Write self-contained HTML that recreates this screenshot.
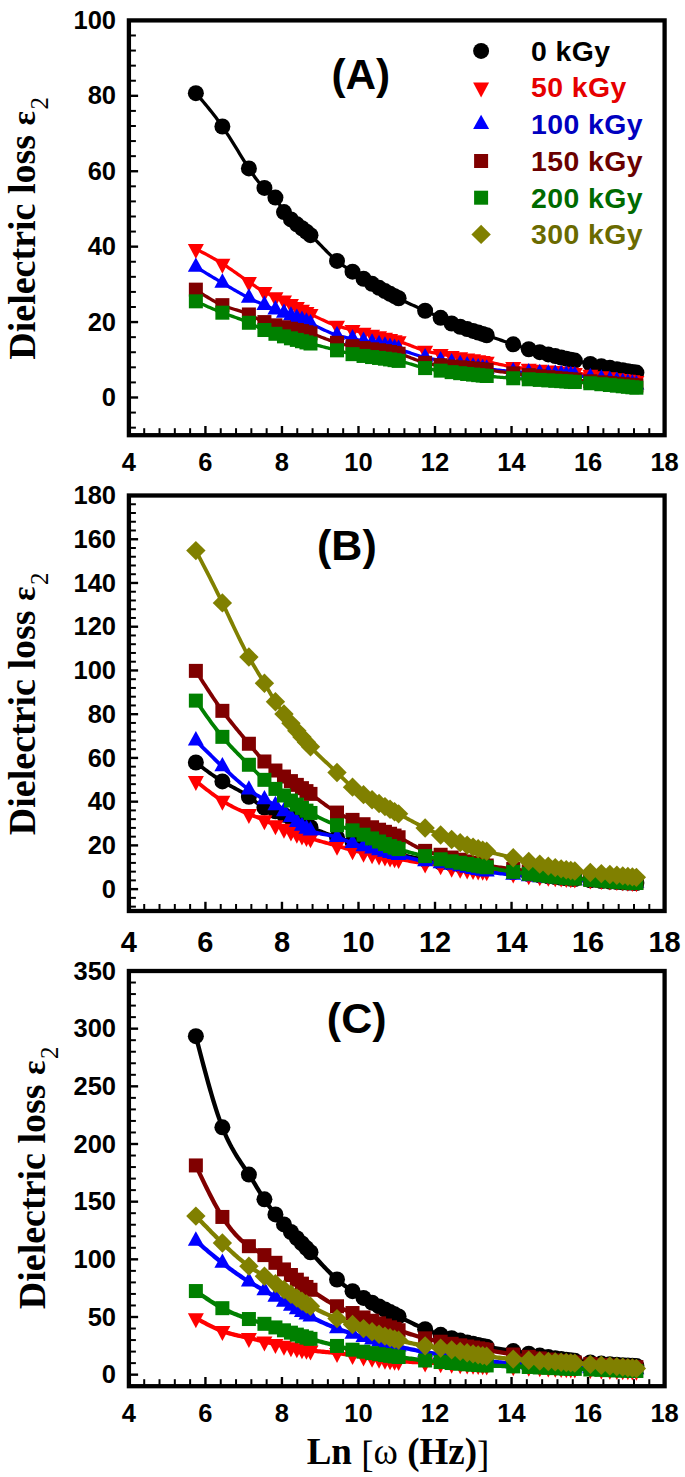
<!DOCTYPE html>
<html><head><meta charset="utf-8"><style>html,body{margin:0;padding:0;background:#fff;}svg{display:block;}</style></head>
<body>
<svg width="685" height="1477" viewBox="0 0 685 1477">
<rect width="685" height="1477" fill="#fff"/>
<path d="M195.86 93.17L197.42 94.98L198.98 96.80L200.54 98.62L202.10 100.44L203.66 102.29L205.22 104.14L206.78 106.02L208.34 107.92L209.90 109.84L211.46 111.79L213.02 113.78L214.58 115.80L216.14 117.85L217.70 119.95L219.26 122.09L220.82 124.29L222.38 126.53L223.94 128.82L225.50 131.16L227.06 133.55L228.62 135.97L230.18 138.42L231.74 140.90L233.30 143.41L234.86 145.92L236.42 148.45L237.98 150.98L239.54 153.52L241.10 156.04L242.66 158.56L244.22 161.06L245.78 163.53L247.34 165.98L248.90 168.39L250.46 170.76L252.01 173.06L253.56 175.31L255.11 177.46L256.66 179.53L258.21 181.48L259.76 183.31L261.32 185.00L262.87 186.53L264.42 187.89L265.99 189.11L267.56 190.23L269.14 191.34L270.71 192.54L272.28 193.93L273.85 195.58L275.43 197.60L277.13 200.26L278.84 203.25L280.55 206.36L282.26 209.37L283.97 212.08L285.71 214.37L287.45 216.27L289.20 217.90L290.94 219.41L292.91 221.09L294.87 222.74L296.84 224.34L298.54 225.66L300.25 226.95L301.95 228.23L303.45 229.37L304.95 230.53L306.46 231.73L308.47 233.42L310.49 235.19L312.05 236.62L313.61 238.10L315.17 239.61L316.73 241.16L318.29 242.73L319.85 244.33L321.41 245.93L322.97 247.53L324.53 249.13L326.09 250.72L327.65 252.29L329.21 253.84L330.77 255.35L332.33 256.83L333.89 258.26L335.45 259.63L337.01 260.95L338.56 262.19L340.11 263.37L341.67 264.50L343.22 265.59L344.77 266.64L346.32 267.67L347.87 268.67L349.42 269.67L350.97 270.66L352.53 271.65L354.10 272.67L355.67 273.69L357.24 274.72L358.82 275.74L360.39 276.76L361.96 277.77L363.53 278.75L365.24 279.80L366.95 280.83L368.66 281.83L370.36 282.83L372.07 283.82L373.82 284.83L375.56 285.83L377.30 286.83L379.05 287.81L381.01 288.91L382.98 290.00L384.95 291.08L386.65 292.01L388.35 292.93L390.06 293.84L391.56 294.63L393.06 295.42L394.56 296.21L396.58 297.25L398.60 298.28L400.16 299.07L401.72 299.85L403.28 300.63L404.84 301.40L406.40 302.16L407.96 302.91L409.52 303.66L411.08 304.40L412.64 305.13L414.20 305.86L415.76 306.58L417.32 307.30L418.88 308.00L420.44 308.71L422.00 309.41L423.56 310.10L425.12 310.78L426.67 311.46L428.22 312.14L429.77 312.82L431.32 313.50L432.88 314.19L434.43 314.89L435.98 315.60L437.53 316.34L439.08 317.09L440.63 317.87L442.21 318.68L443.78 319.51L445.35 320.34L446.92 321.17L448.50 321.98L450.07 322.76L451.64 323.49L453.35 324.23L455.06 324.92L456.76 325.57L458.47 326.18L460.18 326.78L461.92 327.37L463.67 327.96L465.41 328.54L467.16 329.11L469.12 329.73L471.09 330.35L473.05 330.95L474.76 331.48L476.46 332.00L478.16 332.53L479.67 333.00L481.17 333.47L482.67 333.95L484.69 334.61L486.70 335.28L488.26 335.81L489.82 336.34L491.38 336.87L492.94 337.40L494.50 337.94L496.06 338.48L497.62 339.02L499.18 339.56L500.74 340.11L502.30 340.65L503.86 341.19L505.42 341.72L506.98 342.26L508.54 342.79L510.10 343.32L511.66 343.85L513.22 344.37L514.78 344.88L516.33 345.39L517.88 345.90L519.43 346.39L520.98 346.88L522.53 347.36L524.08 347.84L525.64 348.31L527.19 348.77L528.74 349.22L530.31 349.66L531.88 350.10L533.46 350.53L535.03 350.96L536.60 351.38L538.17 351.79L539.75 352.20L541.46 352.65L543.16 353.09L544.87 353.52L546.58 353.96L548.29 354.38L550.03 354.82L551.77 355.25L553.52 355.67L555.26 356.09L557.23 356.56L559.19 357.02L561.16 357.48L562.86 357.88L564.57 358.27L566.27 358.66L567.77 359.00L569.27 359.34L570.78 359.67L572.79 360.12L574.81 360.56L576.36 360.90L577.91 361.24L579.46 361.58L581.01 361.91L582.57 362.25L584.12 362.58L585.67 362.91L587.22 363.24L588.77 363.57L590.32 363.89L591.90 364.22L593.47 364.55L595.04 364.87L596.61 365.19L598.19 365.51L599.76 365.83L601.33 366.15L603.04 366.49L604.75 366.83L606.45 367.17L608.16 367.50L609.87 367.83L611.61 368.17L613.36 368.50L615.10 368.83L616.85 369.16L618.81 369.52L620.78 369.89L622.74 370.24L624.45 370.55L626.15 370.86L627.85 371.16L629.36 371.42L630.86 371.68L632.36 371.94L634.38 372.28L636.39 372.62" fill="none" stroke="#000000" stroke-width="3.3" stroke-linejoin="round"/>
<g><circle cx="195.86" cy="93.17" r="8" fill="#000000"/><circle cx="222.38" cy="126.53" r="8" fill="#000000"/><circle cx="248.90" cy="168.39" r="8" fill="#000000"/><circle cx="264.42" cy="187.89" r="8" fill="#000000"/><circle cx="275.43" cy="197.60" r="8" fill="#000000"/><circle cx="283.97" cy="212.08" r="8" fill="#000000"/><circle cx="290.94" cy="219.41" r="8" fill="#000000"/><circle cx="296.84" cy="224.34" r="8" fill="#000000"/><circle cx="301.95" cy="228.23" r="8" fill="#000000"/><circle cx="306.46" cy="231.73" r="8" fill="#000000"/><circle cx="310.49" cy="235.19" r="8" fill="#000000"/><circle cx="337.01" cy="260.95" r="8" fill="#000000"/><circle cx="352.53" cy="271.65" r="8" fill="#000000"/><circle cx="363.53" cy="278.75" r="8" fill="#000000"/><circle cx="372.07" cy="283.82" r="8" fill="#000000"/><circle cx="379.05" cy="287.81" r="8" fill="#000000"/><circle cx="384.95" cy="291.08" r="8" fill="#000000"/><circle cx="390.06" cy="293.84" r="8" fill="#000000"/><circle cx="394.56" cy="296.21" r="8" fill="#000000"/><circle cx="398.60" cy="298.28" r="8" fill="#000000"/><circle cx="425.12" cy="310.78" r="8" fill="#000000"/><circle cx="440.63" cy="317.87" r="8" fill="#000000"/><circle cx="451.64" cy="323.49" r="8" fill="#000000"/><circle cx="460.18" cy="326.78" r="8" fill="#000000"/><circle cx="467.16" cy="329.11" r="8" fill="#000000"/><circle cx="473.05" cy="330.95" r="8" fill="#000000"/><circle cx="478.16" cy="332.53" r="8" fill="#000000"/><circle cx="482.67" cy="333.95" r="8" fill="#000000"/><circle cx="486.70" cy="335.28" r="8" fill="#000000"/><circle cx="513.22" cy="344.37" r="8" fill="#000000"/><circle cx="528.74" cy="349.22" r="8" fill="#000000"/><circle cx="539.75" cy="352.20" r="8" fill="#000000"/><circle cx="548.29" cy="354.38" r="8" fill="#000000"/><circle cx="555.26" cy="356.09" r="8" fill="#000000"/><circle cx="561.16" cy="357.48" r="8" fill="#000000"/><circle cx="566.27" cy="358.66" r="8" fill="#000000"/><circle cx="570.78" cy="359.67" r="8" fill="#000000"/><circle cx="574.81" cy="360.56" r="8" fill="#000000"/><circle cx="590.32" cy="363.89" r="8" fill="#000000"/><circle cx="601.33" cy="366.15" r="8" fill="#000000"/><circle cx="609.87" cy="367.83" r="8" fill="#000000"/><circle cx="616.85" cy="369.16" r="8" fill="#000000"/><circle cx="622.74" cy="370.24" r="8" fill="#000000"/><circle cx="627.85" cy="371.16" r="8" fill="#000000"/><circle cx="632.36" cy="371.94" r="8" fill="#000000"/><circle cx="636.39" cy="372.62" r="8" fill="#000000"/></g>
<path d="M195.86 248.92L197.42 249.73L198.98 250.54L200.54 251.36L202.10 252.18L203.66 253.00L205.22 253.83L206.78 254.67L208.34 255.51L209.90 256.37L211.46 257.23L213.02 258.11L214.58 259.00L216.14 259.91L217.70 260.83L219.26 261.77L220.82 262.72L222.38 263.70L223.94 264.69L225.50 265.70L227.06 266.73L228.62 267.78L230.18 268.84L231.74 269.91L233.30 270.99L234.86 272.08L236.42 273.18L237.98 274.28L239.54 275.39L241.10 276.49L242.66 277.60L244.22 278.71L245.78 279.81L247.34 280.91L248.90 282.00L250.46 283.08L252.01 284.15L253.56 285.20L255.11 286.24L256.66 287.26L258.21 288.25L259.76 289.22L261.32 290.16L262.87 291.07L264.42 291.94L265.99 292.79L267.56 293.60L269.14 294.38L270.71 295.12L272.28 295.83L273.85 296.52L275.43 297.17L277.13 297.86L278.84 298.53L280.55 299.21L282.26 299.90L283.97 300.62L285.71 301.40L287.45 302.22L289.20 303.08L290.94 303.96L292.91 304.97L294.87 305.99L296.84 307.03L298.54 307.94L300.25 308.85L301.95 309.75L303.45 310.54L304.95 311.32L306.46 312.09L308.47 313.09L310.49 314.07L312.05 314.84L313.61 315.60L315.17 316.36L316.73 317.12L318.29 317.88L319.85 318.63L321.41 319.37L322.97 320.10L324.53 320.81L326.09 321.52L327.65 322.20L329.21 322.86L330.77 323.51L332.33 324.13L333.89 324.72L335.45 325.29L337.01 325.83L338.56 326.33L340.11 326.81L341.67 327.26L343.22 327.69L344.77 328.11L346.32 328.51L347.87 328.90L349.42 329.28L350.97 329.66L352.53 330.03L354.10 330.42L355.67 330.81L357.24 331.19L358.82 331.58L360.39 331.96L361.96 332.34L363.53 332.71L365.24 333.11L366.95 333.50L368.66 333.89L370.36 334.27L372.07 334.66L373.82 335.05L375.56 335.45L377.30 335.85L379.05 336.25L381.01 336.71L382.98 337.18L384.95 337.65L386.65 338.07L388.35 338.49L390.06 338.93L391.56 339.32L393.06 339.73L394.56 340.13L396.58 340.69L398.60 341.28L400.16 341.77L401.72 342.29L403.28 342.83L404.84 343.40L406.40 343.97L407.96 344.56L409.52 345.16L411.08 345.76L412.64 346.37L414.20 346.97L415.76 347.56L417.32 348.14L418.88 348.71L420.44 349.26L422.00 349.78L423.56 350.28L425.12 350.74L426.67 351.18L428.22 351.58L429.77 351.95L431.32 352.30L432.88 352.62L434.43 352.94L435.98 353.23L437.53 353.52L439.08 353.80L440.63 354.07L442.21 354.35L443.78 354.63L445.35 354.91L446.92 355.18L448.50 355.45L450.07 355.72L451.64 355.98L453.35 356.26L455.06 356.53L456.76 356.79L458.47 357.06L460.18 357.32L461.92 357.59L463.67 357.86L465.41 358.12L467.16 358.39L469.12 358.70L471.09 359.00L473.05 359.32L474.76 359.59L476.46 359.87L478.16 360.15L479.67 360.41L481.17 360.67L482.67 360.93L484.69 361.30L486.70 361.67L488.26 361.98L489.82 362.29L491.38 362.61L492.94 362.94L494.50 363.27L496.06 363.60L497.62 363.94L499.18 364.27L500.74 364.60L502.30 364.93L503.86 365.25L505.42 365.57L506.98 365.87L508.54 366.17L510.10 366.45L511.66 366.72L513.22 366.97L514.78 367.20L516.33 367.42L517.88 367.62L519.43 367.81L520.98 367.99L522.53 368.16L524.08 368.33L525.64 368.48L527.19 368.64L528.74 368.79L530.31 368.94L531.88 369.09L533.46 369.24L535.03 369.39L536.60 369.53L538.17 369.67L539.75 369.81L541.46 369.96L543.16 370.11L544.87 370.25L546.58 370.40L548.29 370.54L550.03 370.68L551.77 370.83L553.52 370.98L555.26 371.12L557.23 371.29L559.19 371.46L561.16 371.64L562.86 371.79L564.57 371.95L566.27 372.11L567.77 372.26L569.27 372.41L570.78 372.56L572.79 372.77L574.81 372.99L576.36 373.17L577.91 373.34L579.46 373.52L581.01 373.69L582.57 373.87L584.12 374.05L585.67 374.24L587.22 374.42L588.77 374.61L590.32 374.79L591.90 374.99L593.47 375.18L595.04 375.37L596.61 375.57L598.19 375.76L599.76 375.96L601.33 376.16L603.04 376.37L604.75 376.59L606.45 376.81L608.16 377.04L609.87 377.26L611.61 377.49L613.36 377.72L615.10 377.95L616.85 378.19L618.81 378.45L620.78 378.72L622.74 378.99L624.45 379.23L626.15 379.46L627.85 379.70L629.36 379.91L630.86 380.12L632.36 380.34L634.38 380.63L636.39 380.91" fill="none" stroke="#ff0000" stroke-width="3.3" stroke-linejoin="round"/>
<g><path d="M187.86 243.92H203.86L195.86 258.92Z" fill="#ff0000"/><path d="M214.38 258.70H230.38L222.38 273.70Z" fill="#ff0000"/><path d="M240.90 277.00H256.90L248.90 292.00Z" fill="#ff0000"/><path d="M256.42 286.94H272.42L264.42 301.94Z" fill="#ff0000"/><path d="M267.43 292.17H283.43L275.43 307.17Z" fill="#ff0000"/><path d="M275.97 295.62H291.97L283.97 310.62Z" fill="#ff0000"/><path d="M282.94 298.96H298.94L290.94 313.96Z" fill="#ff0000"/><path d="M288.84 302.03H304.84L296.84 317.03Z" fill="#ff0000"/><path d="M293.95 304.75H309.95L301.95 319.75Z" fill="#ff0000"/><path d="M298.46 307.09H314.46L306.46 322.09Z" fill="#ff0000"/><path d="M302.49 309.07H318.49L310.49 324.07Z" fill="#ff0000"/><path d="M329.01 320.83H345.01L337.01 335.83Z" fill="#ff0000"/><path d="M344.53 325.03H360.53L352.53 340.03Z" fill="#ff0000"/><path d="M355.53 327.71H371.53L363.53 342.71Z" fill="#ff0000"/><path d="M364.07 329.66H380.07L372.07 344.66Z" fill="#ff0000"/><path d="M371.05 331.25H387.05L379.05 346.25Z" fill="#ff0000"/><path d="M376.95 332.65H392.95L384.95 347.65Z" fill="#ff0000"/><path d="M382.06 333.93H398.06L390.06 348.93Z" fill="#ff0000"/><path d="M386.56 335.13H402.56L394.56 350.13Z" fill="#ff0000"/><path d="M390.60 336.28H406.60L398.60 351.28Z" fill="#ff0000"/><path d="M417.12 345.74H433.12L425.12 360.74Z" fill="#ff0000"/><path d="M432.63 349.07H448.63L440.63 364.07Z" fill="#ff0000"/><path d="M443.64 350.98H459.64L451.64 365.98Z" fill="#ff0000"/><path d="M452.18 352.32H468.18L460.18 367.32Z" fill="#ff0000"/><path d="M459.16 353.39H475.16L467.16 368.39Z" fill="#ff0000"/><path d="M465.05 354.32H481.05L473.05 369.32Z" fill="#ff0000"/><path d="M470.16 355.15H486.16L478.16 370.15Z" fill="#ff0000"/><path d="M474.67 355.93H490.67L482.67 370.93Z" fill="#ff0000"/><path d="M478.70 356.67H494.70L486.70 371.67Z" fill="#ff0000"/><path d="M505.22 361.97H521.22L513.22 376.97Z" fill="#ff0000"/><path d="M520.74 363.79H536.74L528.74 378.79Z" fill="#ff0000"/><path d="M531.75 364.81H547.75L539.75 379.81Z" fill="#ff0000"/><path d="M540.29 365.54H556.29L548.29 380.54Z" fill="#ff0000"/><path d="M547.26 366.12H563.26L555.26 381.12Z" fill="#ff0000"/><path d="M553.16 366.64H569.16L561.16 381.64Z" fill="#ff0000"/><path d="M558.27 367.11H574.27L566.27 382.11Z" fill="#ff0000"/><path d="M562.78 367.56H578.78L570.78 382.56Z" fill="#ff0000"/><path d="M566.81 367.99H582.81L574.81 382.99Z" fill="#ff0000"/><path d="M582.32 369.79H598.32L590.32 384.79Z" fill="#ff0000"/><path d="M593.33 371.16H609.33L601.33 386.16Z" fill="#ff0000"/><path d="M601.87 372.26H617.87L609.87 387.26Z" fill="#ff0000"/><path d="M608.85 373.19H624.85L616.85 388.19Z" fill="#ff0000"/><path d="M614.74 373.99H630.74L622.74 388.99Z" fill="#ff0000"/><path d="M619.85 374.70H635.85L627.85 389.70Z" fill="#ff0000"/><path d="M624.36 375.34H640.36L632.36 390.34Z" fill="#ff0000"/><path d="M628.39 375.91H644.39L636.39 390.91Z" fill="#ff0000"/></g>
<path d="M195.86 267.02L197.42 267.95L198.98 268.89L200.54 269.83L202.10 270.77L203.66 271.71L205.22 272.65L206.78 273.59L208.34 274.53L209.90 275.46L211.46 276.40L213.02 277.33L214.58 278.27L216.14 279.20L217.70 280.13L219.26 281.06L220.82 281.99L222.38 282.92L223.94 283.85L225.50 284.77L227.06 285.70L228.62 286.61L230.18 287.53L231.74 288.44L233.30 289.34L234.86 290.24L236.42 291.12L237.98 292.00L239.54 292.87L241.10 293.73L242.66 294.59L244.22 295.42L245.78 296.25L247.34 297.06L248.90 297.87L250.46 298.65L252.01 299.41L253.56 300.17L255.11 300.91L256.66 301.64L258.21 302.36L259.76 303.07L261.32 303.77L262.87 304.45L264.42 305.13L265.99 305.81L267.56 306.48L269.14 307.14L270.71 307.80L272.28 308.44L273.85 309.08L275.43 309.72L277.13 310.40L278.84 311.07L280.55 311.74L282.26 312.41L283.97 313.07L285.71 313.74L287.45 314.41L289.20 315.08L290.94 315.75L292.91 316.50L294.87 317.26L296.84 318.02L298.54 318.69L300.25 319.35L301.95 320.03L303.45 320.63L304.95 321.23L306.46 321.84L308.47 322.66L310.49 323.51L312.05 324.20L313.61 324.91L315.17 325.63L316.73 326.38L318.29 327.13L319.85 327.89L321.41 328.65L322.97 329.40L324.53 330.15L326.09 330.88L327.65 331.60L329.21 332.29L330.77 332.96L332.33 333.59L333.89 334.19L335.45 334.75L337.01 335.26L338.56 335.72L340.11 336.14L341.67 336.52L343.22 336.87L344.77 337.20L346.32 337.51L347.87 337.81L349.42 338.10L350.97 338.40L352.53 338.70L354.10 339.02L355.67 339.36L357.24 339.70L358.82 340.05L360.39 340.40L361.96 340.76L363.53 341.11L365.24 341.48L366.95 341.85L368.66 342.21L370.36 342.58L372.07 342.94L373.82 343.32L375.56 343.70L377.30 344.08L379.05 344.47L381.01 344.91L382.98 345.36L384.95 345.81L386.65 346.21L388.35 346.61L390.06 347.03L391.56 347.40L393.06 347.77L394.56 348.15L396.58 348.67L398.60 349.20L400.16 349.65L401.72 350.12L403.28 350.60L404.84 351.10L406.40 351.62L407.96 352.14L409.52 352.67L411.08 353.20L412.64 353.73L414.20 354.25L415.76 354.77L417.32 355.28L418.88 355.77L420.44 356.25L422.00 356.70L423.56 357.13L425.12 357.53L426.67 357.90L428.22 358.24L429.77 358.56L431.32 358.87L432.88 359.15L434.43 359.43L435.98 359.70L437.53 359.97L439.08 360.24L440.63 360.51L442.21 360.80L443.78 361.10L445.35 361.40L446.92 361.71L448.50 362.02L450.07 362.34L451.64 362.65L453.35 363.00L455.06 363.34L456.76 363.68L458.47 364.01L460.18 364.35L461.92 364.69L463.67 365.03L465.41 365.36L467.16 365.69L469.12 366.06L471.09 366.41L473.05 366.76L474.76 367.06L476.46 367.34L478.16 367.62L479.67 367.85L481.17 368.08L482.67 368.30L484.69 368.57L486.70 368.84L488.26 369.03L489.82 369.22L491.38 369.41L492.94 369.58L494.50 369.76L496.06 369.92L497.62 370.09L499.18 370.24L500.74 370.40L502.30 370.55L503.86 370.69L505.42 370.83L506.98 370.97L508.54 371.10L510.10 371.23L511.66 371.36L513.22 371.48L514.78 371.61L516.33 371.72L517.88 371.84L519.43 371.95L520.98 372.07L522.53 372.17L524.08 372.28L525.64 372.39L527.19 372.49L528.74 372.59L530.31 372.68L531.88 372.78L533.46 372.87L535.03 372.96L536.60 373.06L538.17 373.15L539.75 373.23L541.46 373.33L543.16 373.43L544.87 373.53L546.58 373.63L548.29 373.73L550.03 373.83L551.77 373.93L553.52 374.04L555.26 374.15L557.23 374.27L559.19 374.40L561.16 374.54L562.86 374.66L564.57 374.78L566.27 374.91L567.77 375.03L569.27 375.15L570.78 375.27L572.79 375.45L574.81 375.63L576.36 375.78L577.91 375.93L579.46 376.09L581.01 376.25L582.57 376.42L584.12 376.59L585.67 376.77L587.22 376.95L588.77 377.13L590.32 377.32L591.90 377.52L593.47 377.73L595.04 377.93L596.61 378.15L598.19 378.36L599.76 378.58L601.33 378.81L603.04 379.05L604.75 379.31L606.45 379.57L608.16 379.83L609.87 380.09L611.61 380.37L613.36 380.65L615.10 380.93L616.85 381.22L618.81 381.55L620.78 381.89L622.74 382.23L624.45 382.52L626.15 382.82L627.85 383.13L629.36 383.40L630.86 383.67L632.36 383.94L634.38 384.32L636.39 384.69" fill="none" stroke="#0000ff" stroke-width="3.3" stroke-linejoin="round"/>
<g><path d="M187.86 271.82H203.86L195.86 257.42Z" fill="#0000ff"/><path d="M214.38 287.72H230.38L222.38 273.32Z" fill="#0000ff"/><path d="M240.90 302.67H256.90L248.90 288.27Z" fill="#0000ff"/><path d="M256.42 309.93H272.42L264.42 295.53Z" fill="#0000ff"/><path d="M267.43 314.52H283.43L275.43 300.12Z" fill="#0000ff"/><path d="M275.97 317.87H291.97L283.97 303.47Z" fill="#0000ff"/><path d="M282.94 320.55H298.94L290.94 306.15Z" fill="#0000ff"/><path d="M288.84 322.82H304.84L296.84 308.42Z" fill="#0000ff"/><path d="M293.95 324.83H309.95L301.95 310.43Z" fill="#0000ff"/><path d="M298.46 326.64H314.46L306.46 312.24Z" fill="#0000ff"/><path d="M302.49 328.31H318.49L310.49 313.91Z" fill="#0000ff"/><path d="M329.01 340.06H345.01L337.01 325.66Z" fill="#0000ff"/><path d="M344.53 343.50H360.53L352.53 329.10Z" fill="#0000ff"/><path d="M355.53 345.91H371.53L363.53 331.51Z" fill="#0000ff"/><path d="M364.07 347.74H380.07L372.07 333.34Z" fill="#0000ff"/><path d="M371.05 349.27H387.05L379.05 334.87Z" fill="#0000ff"/><path d="M376.95 350.61H392.95L384.95 336.21Z" fill="#0000ff"/><path d="M382.06 351.83H398.06L390.06 337.43Z" fill="#0000ff"/><path d="M386.56 352.95H402.56L394.56 338.55Z" fill="#0000ff"/><path d="M390.60 354.00H406.60L398.60 339.60Z" fill="#0000ff"/><path d="M417.12 362.33H433.12L425.12 347.93Z" fill="#0000ff"/><path d="M432.63 365.31H448.63L440.63 350.91Z" fill="#0000ff"/><path d="M443.64 367.45H459.64L451.64 353.05Z" fill="#0000ff"/><path d="M452.18 369.15H468.18L460.18 354.75Z" fill="#0000ff"/><path d="M459.16 370.49H475.16L467.16 356.09Z" fill="#0000ff"/><path d="M465.05 371.56H481.05L473.05 357.16Z" fill="#0000ff"/><path d="M470.16 372.42H486.16L478.16 358.02Z" fill="#0000ff"/><path d="M474.67 373.10H490.67L482.67 358.70Z" fill="#0000ff"/><path d="M478.70 373.64H494.70L486.70 359.24Z" fill="#0000ff"/><path d="M505.22 376.28H521.22L513.22 361.88Z" fill="#0000ff"/><path d="M520.74 377.39H536.74L528.74 362.99Z" fill="#0000ff"/><path d="M531.75 378.03H547.75L539.75 363.63Z" fill="#0000ff"/><path d="M540.29 378.53H556.29L548.29 364.13Z" fill="#0000ff"/><path d="M547.26 378.95H563.26L555.26 364.55Z" fill="#0000ff"/><path d="M553.16 379.34H569.16L561.16 364.94Z" fill="#0000ff"/><path d="M558.27 379.71H574.27L566.27 365.31Z" fill="#0000ff"/><path d="M562.78 380.07H578.78L570.78 365.67Z" fill="#0000ff"/><path d="M566.81 380.43H582.81L574.81 366.03Z" fill="#0000ff"/><path d="M582.32 382.12H598.32L590.32 367.72Z" fill="#0000ff"/><path d="M593.33 383.61H609.33L601.33 369.21Z" fill="#0000ff"/><path d="M601.87 384.89H617.87L609.87 370.49Z" fill="#0000ff"/><path d="M608.85 386.02H624.85L616.85 371.62Z" fill="#0000ff"/><path d="M614.74 387.03H630.74L622.74 372.63Z" fill="#0000ff"/><path d="M619.85 387.93H635.85L627.85 373.53Z" fill="#0000ff"/><path d="M624.36 388.74H640.36L632.36 374.34Z" fill="#0000ff"/><path d="M628.39 389.49H644.39L636.39 375.09Z" fill="#0000ff"/></g>
<path d="M195.86 289.64L197.42 290.68L198.98 291.72L200.54 292.75L202.10 293.77L203.66 294.79L205.22 295.79L206.78 296.77L208.34 297.74L209.90 298.68L211.46 299.60L213.02 300.49L214.58 301.36L216.14 302.19L217.70 302.99L219.26 303.75L220.82 304.48L222.38 305.15L223.94 305.79L225.50 306.39L227.06 306.95L228.62 307.49L230.18 308.00L231.74 308.49L233.30 308.98L234.86 309.46L236.42 309.94L237.98 310.43L239.54 310.92L241.10 311.44L242.66 311.98L244.22 312.54L245.78 313.14L247.34 313.78L248.90 314.47L250.46 315.20L252.01 315.97L253.56 316.77L255.11 317.58L256.66 318.39L258.21 319.20L259.76 319.98L261.32 320.73L262.87 321.44L264.42 322.09L265.99 322.69L267.56 323.22L269.14 323.71L270.71 324.15L272.28 324.56L273.85 324.95L275.43 325.33L277.13 325.73L278.84 326.13L280.55 326.53L282.26 326.91L283.97 327.28L285.71 327.66L287.45 328.02L289.20 328.37L290.94 328.73L292.91 329.13L294.87 329.54L296.84 329.96L298.54 330.33L300.25 330.71L301.95 331.10L303.45 331.46L304.95 331.83L306.46 332.22L308.47 332.76L310.49 333.34L312.05 333.82L313.61 334.33L315.17 334.86L316.73 335.42L318.29 335.99L319.85 336.58L321.41 337.18L322.97 337.78L324.53 338.38L326.09 338.98L327.65 339.58L329.21 340.16L330.77 340.73L332.33 341.29L333.89 341.82L335.45 342.32L337.01 342.80L338.56 343.24L340.11 343.66L341.67 344.04L343.22 344.40L344.77 344.74L346.32 345.07L347.87 345.37L349.42 345.67L350.97 345.96L352.53 346.24L354.10 346.52L355.67 346.79L357.24 347.07L358.82 347.33L360.39 347.59L361.96 347.84L363.53 348.08L365.24 348.34L366.95 348.59L368.66 348.83L370.36 349.06L372.07 349.30L373.82 349.54L375.56 349.78L377.30 350.02L379.05 350.27L381.01 350.56L382.98 350.85L384.95 351.16L386.65 351.43L388.35 351.71L390.06 352.01L391.56 352.29L393.06 352.57L394.56 352.87L396.58 353.28L398.60 353.73L400.16 354.14L401.72 354.59L403.28 355.08L404.84 355.61L406.40 356.16L407.96 356.74L409.52 357.33L411.08 357.93L412.64 358.54L414.20 359.14L415.76 359.74L417.32 360.32L418.88 360.88L420.44 361.42L422.00 361.92L423.56 362.39L425.12 362.81L426.67 363.18L428.22 363.51L429.77 363.80L431.32 364.05L432.88 364.28L434.43 364.49L435.98 364.67L437.53 364.85L439.08 365.02L440.63 365.19L442.21 365.37L443.78 365.55L445.35 365.74L446.92 365.92L448.50 366.10L450.07 366.27L451.64 366.44L453.35 366.62L455.06 366.79L456.76 366.96L458.47 367.12L460.18 367.28L461.92 367.44L463.67 367.60L465.41 367.76L467.16 367.93L469.12 368.11L471.09 368.30L473.05 368.49L474.76 368.66L476.46 368.83L478.16 369.00L479.67 369.16L481.17 369.32L482.67 369.49L484.69 369.73L486.70 369.97L488.26 370.16L489.82 370.35L491.38 370.55L492.94 370.75L494.50 370.96L496.06 371.16L497.62 371.36L499.18 371.57L500.74 371.78L502.30 371.98L503.86 372.19L505.42 372.39L506.98 372.59L508.54 372.79L510.10 372.99L511.66 373.18L513.22 373.37L514.78 373.56L516.33 373.74L517.88 373.92L519.43 374.10L520.98 374.27L522.53 374.44L524.08 374.61L525.64 374.78L527.19 374.95L528.74 375.12L530.31 375.28L531.88 375.45L533.46 375.62L535.03 375.79L536.60 375.95L538.17 376.12L539.75 376.28L541.46 376.46L543.16 376.64L544.87 376.81L546.58 376.99L548.29 377.16L550.03 377.33L551.77 377.51L553.52 377.69L555.26 377.86L557.23 378.05L559.19 378.25L561.16 378.44L562.86 378.61L564.57 378.78L566.27 378.95L567.77 379.09L569.27 379.24L570.78 379.39L572.79 379.58L574.81 379.78L576.36 379.93L577.91 380.08L579.46 380.23L581.01 380.38L582.57 380.53L584.12 380.68L585.67 380.83L587.22 380.98L588.77 381.12L590.32 381.27L591.90 381.42L593.47 381.57L595.04 381.72L596.61 381.86L598.19 382.01L599.76 382.16L601.33 382.30L603.04 382.46L604.75 382.62L606.45 382.78L608.16 382.93L609.87 383.09L611.61 383.25L613.36 383.41L615.10 383.56L616.85 383.72L618.81 383.90L620.78 384.07L622.74 384.24L624.45 384.40L626.15 384.54L627.85 384.69L629.36 384.83L630.86 384.96L632.36 385.09L634.38 385.26L636.39 385.43" fill="none" stroke="#800000" stroke-width="3.3" stroke-linejoin="round"/>
<g><rect x="188.86" y="282.64" width="14" height="14" fill="#800000"/><rect x="215.38" y="298.15" width="14" height="14" fill="#800000"/><rect x="241.90" y="307.47" width="14" height="14" fill="#800000"/><rect x="257.42" y="315.09" width="14" height="14" fill="#800000"/><rect x="268.43" y="318.33" width="14" height="14" fill="#800000"/><rect x="276.97" y="320.28" width="14" height="14" fill="#800000"/><rect x="283.94" y="321.73" width="14" height="14" fill="#800000"/><rect x="289.84" y="322.96" width="14" height="14" fill="#800000"/><rect x="294.95" y="324.10" width="14" height="14" fill="#800000"/><rect x="299.46" y="325.22" width="14" height="14" fill="#800000"/><rect x="303.49" y="326.34" width="14" height="14" fill="#800000"/><rect x="330.01" y="335.80" width="14" height="14" fill="#800000"/><rect x="345.53" y="339.24" width="14" height="14" fill="#800000"/><rect x="356.53" y="341.08" width="14" height="14" fill="#800000"/><rect x="365.07" y="342.30" width="14" height="14" fill="#800000"/><rect x="372.05" y="343.27" width="14" height="14" fill="#800000"/><rect x="377.95" y="344.16" width="14" height="14" fill="#800000"/><rect x="383.06" y="345.01" width="14" height="14" fill="#800000"/><rect x="387.56" y="345.87" width="14" height="14" fill="#800000"/><rect x="391.60" y="346.73" width="14" height="14" fill="#800000"/><rect x="418.12" y="355.81" width="14" height="14" fill="#800000"/><rect x="433.63" y="358.19" width="14" height="14" fill="#800000"/><rect x="444.64" y="359.44" width="14" height="14" fill="#800000"/><rect x="453.18" y="360.28" width="14" height="14" fill="#800000"/><rect x="460.16" y="360.93" width="14" height="14" fill="#800000"/><rect x="466.05" y="361.49" width="14" height="14" fill="#800000"/><rect x="471.16" y="362.00" width="14" height="14" fill="#800000"/><rect x="475.67" y="362.49" width="14" height="14" fill="#800000"/><rect x="479.70" y="362.97" width="14" height="14" fill="#800000"/><rect x="506.22" y="366.37" width="14" height="14" fill="#800000"/><rect x="521.74" y="368.12" width="14" height="14" fill="#800000"/><rect x="532.75" y="369.28" width="14" height="14" fill="#800000"/><rect x="541.29" y="370.16" width="14" height="14" fill="#800000"/><rect x="548.26" y="370.86" width="14" height="14" fill="#800000"/><rect x="554.16" y="371.44" width="14" height="14" fill="#800000"/><rect x="559.27" y="371.95" width="14" height="14" fill="#800000"/><rect x="563.78" y="372.39" width="14" height="14" fill="#800000"/><rect x="567.81" y="372.78" width="14" height="14" fill="#800000"/><rect x="583.32" y="374.27" width="14" height="14" fill="#800000"/><rect x="594.33" y="375.30" width="14" height="14" fill="#800000"/><rect x="602.87" y="376.09" width="14" height="14" fill="#800000"/><rect x="609.85" y="376.72" width="14" height="14" fill="#800000"/><rect x="615.74" y="377.24" width="14" height="14" fill="#800000"/><rect x="620.85" y="377.69" width="14" height="14" fill="#800000"/><rect x="625.36" y="378.09" width="14" height="14" fill="#800000"/><rect x="629.39" y="378.43" width="14" height="14" fill="#800000"/></g>
<path d="M195.86 301.33L197.42 302.04L198.98 302.74L200.54 303.45L202.10 304.15L203.66 304.85L205.22 305.54L206.78 306.23L208.34 306.91L209.90 307.59L211.46 308.26L213.02 308.93L214.58 309.58L216.14 310.22L217.70 310.86L219.26 311.48L220.82 312.09L222.38 312.69L223.94 313.28L225.50 313.85L227.06 314.42L228.62 314.98L230.18 315.53L231.74 316.09L233.30 316.64L234.86 317.20L236.42 317.77L237.98 318.34L239.54 318.92L241.10 319.52L242.66 320.13L244.22 320.75L245.78 321.40L247.34 322.07L248.90 322.77L250.46 323.48L252.01 324.22L253.56 324.97L255.11 325.72L256.66 326.48L258.21 327.23L259.76 327.96L261.32 328.68L262.87 329.36L264.42 330.02L265.99 330.64L267.56 331.22L269.14 331.78L270.71 332.31L272.28 332.82L273.85 333.32L275.43 333.80L277.13 334.33L278.84 334.85L280.55 335.37L282.26 335.88L283.97 336.37L285.71 336.87L287.45 337.36L289.20 337.84L290.94 338.32L292.91 338.85L294.87 339.37L296.84 339.89L298.54 340.35L300.25 340.79L301.95 341.24L303.45 341.64L304.95 342.04L306.46 342.44L308.47 342.98L310.49 343.52L312.05 343.94L313.61 344.35L315.17 344.76L316.73 345.16L318.29 345.56L319.85 345.96L321.41 346.36L322.97 346.75L324.53 347.15L326.09 347.54L327.65 347.94L329.21 348.33L330.77 348.73L332.33 349.13L333.89 349.53L335.45 349.94L337.01 350.34L338.56 350.75L340.11 351.16L341.67 351.57L343.22 351.97L344.77 352.37L346.32 352.75L347.87 353.13L349.42 353.49L350.97 353.83L352.53 354.16L354.10 354.46L355.67 354.75L357.24 355.01L358.82 355.27L360.39 355.51L361.96 355.73L363.53 355.95L365.24 356.19L366.95 356.42L368.66 356.64L370.36 356.86L372.07 357.07L373.82 357.29L375.56 357.50L377.30 357.72L379.05 357.94L381.01 358.18L382.98 358.44L384.95 358.70L386.65 358.93L388.35 359.18L390.06 359.43L391.56 359.66L393.06 359.91L394.56 360.16L396.58 360.51L398.60 360.90L400.16 361.23L401.72 361.60L403.28 361.99L404.84 362.40L406.40 362.83L407.96 363.27L409.52 363.73L411.08 364.19L412.64 364.66L414.20 365.13L415.76 365.59L417.32 366.05L418.88 366.49L420.44 366.92L422.00 367.33L423.56 367.72L425.12 368.09L426.67 368.42L428.22 368.73L429.77 369.01L431.32 369.28L432.88 369.53L434.43 369.77L435.98 369.99L437.53 370.21L439.08 370.42L440.63 370.64L442.21 370.86L443.78 371.07L445.35 371.29L446.92 371.51L448.50 371.73L450.07 371.94L451.64 372.15L453.35 372.37L455.06 372.58L456.76 372.79L458.47 372.99L460.18 373.19L461.92 373.39L463.67 373.59L465.41 373.78L467.16 373.98L469.12 374.19L471.09 374.40L473.05 374.61L474.76 374.79L476.46 374.96L478.16 375.14L479.67 375.29L481.17 375.44L482.67 375.59L484.69 375.80L486.70 376.00L488.26 376.15L489.82 376.30L491.38 376.45L492.94 376.60L494.50 376.74L496.06 376.88L497.62 377.02L499.18 377.16L500.74 377.29L502.30 377.42L503.86 377.55L505.42 377.68L506.98 377.80L508.54 377.92L510.10 378.04L511.66 378.16L513.22 378.27L514.78 378.38L516.33 378.49L517.88 378.60L519.43 378.70L520.98 378.80L522.53 378.90L524.08 379.00L525.64 379.10L527.19 379.19L528.74 379.28L530.31 379.38L531.88 379.47L533.46 379.56L535.03 379.65L536.60 379.74L538.17 379.83L539.75 379.91L541.46 380.01L543.16 380.10L544.87 380.20L546.58 380.29L548.29 380.39L550.03 380.48L551.77 380.58L553.52 380.68L555.26 380.78L557.23 380.89L559.19 381.01L561.16 381.13L562.86 381.23L564.57 381.34L566.27 381.45L567.77 381.55L569.27 381.65L570.78 381.75L572.79 381.89L574.81 382.04L576.36 382.15L577.91 382.27L579.46 382.39L581.01 382.51L582.57 382.63L584.12 382.75L585.67 382.88L587.22 383.00L588.77 383.13L590.32 383.26L591.90 383.39L593.47 383.53L595.04 383.66L596.61 383.80L598.19 383.94L599.76 384.08L601.33 384.22L603.04 384.37L604.75 384.53L606.45 384.69L608.16 384.85L609.87 385.01L611.61 385.18L613.36 385.34L615.10 385.51L616.85 385.69L618.81 385.88L620.78 386.08L622.74 386.27L624.45 386.45L626.15 386.62L627.85 386.80L629.36 386.95L630.86 387.11L632.36 387.27L634.38 387.48L636.39 387.70" fill="none" stroke="#008000" stroke-width="3.3" stroke-linejoin="round"/>
<g><rect x="188.86" y="294.33" width="14" height="14" fill="#008000"/><rect x="215.38" y="305.69" width="14" height="14" fill="#008000"/><rect x="241.90" y="315.77" width="14" height="14" fill="#008000"/><rect x="257.42" y="323.02" width="14" height="14" fill="#008000"/><rect x="268.43" y="326.80" width="14" height="14" fill="#008000"/><rect x="276.97" y="329.37" width="14" height="14" fill="#008000"/><rect x="283.94" y="331.32" width="14" height="14" fill="#008000"/><rect x="289.84" y="332.89" width="14" height="14" fill="#008000"/><rect x="294.95" y="334.24" width="14" height="14" fill="#008000"/><rect x="299.46" y="335.44" width="14" height="14" fill="#008000"/><rect x="303.49" y="336.52" width="14" height="14" fill="#008000"/><rect x="330.01" y="343.34" width="14" height="14" fill="#008000"/><rect x="345.53" y="347.16" width="14" height="14" fill="#008000"/><rect x="356.53" y="348.95" width="14" height="14" fill="#008000"/><rect x="365.07" y="350.07" width="14" height="14" fill="#008000"/><rect x="372.05" y="350.94" width="14" height="14" fill="#008000"/><rect x="377.95" y="351.70" width="14" height="14" fill="#008000"/><rect x="383.06" y="352.43" width="14" height="14" fill="#008000"/><rect x="387.56" y="353.16" width="14" height="14" fill="#008000"/><rect x="391.60" y="353.90" width="14" height="14" fill="#008000"/><rect x="418.12" y="361.09" width="14" height="14" fill="#008000"/><rect x="433.63" y="363.64" width="14" height="14" fill="#008000"/><rect x="444.64" y="365.15" width="14" height="14" fill="#008000"/><rect x="453.18" y="366.19" width="14" height="14" fill="#008000"/><rect x="460.16" y="366.98" width="14" height="14" fill="#008000"/><rect x="466.05" y="367.61" width="14" height="14" fill="#008000"/><rect x="471.16" y="368.14" width="14" height="14" fill="#008000"/><rect x="475.67" y="368.59" width="14" height="14" fill="#008000"/><rect x="479.70" y="369.00" width="14" height="14" fill="#008000"/><rect x="506.22" y="371.27" width="14" height="14" fill="#008000"/><rect x="521.74" y="372.28" width="14" height="14" fill="#008000"/><rect x="532.75" y="372.91" width="14" height="14" fill="#008000"/><rect x="541.29" y="373.39" width="14" height="14" fill="#008000"/><rect x="548.26" y="373.78" width="14" height="14" fill="#008000"/><rect x="554.16" y="374.13" width="14" height="14" fill="#008000"/><rect x="559.27" y="374.45" width="14" height="14" fill="#008000"/><rect x="563.78" y="374.75" width="14" height="14" fill="#008000"/><rect x="567.81" y="375.04" width="14" height="14" fill="#008000"/><rect x="583.32" y="376.26" width="14" height="14" fill="#008000"/><rect x="594.33" y="377.22" width="14" height="14" fill="#008000"/><rect x="602.87" y="378.01" width="14" height="14" fill="#008000"/><rect x="609.85" y="378.69" width="14" height="14" fill="#008000"/><rect x="615.74" y="379.27" width="14" height="14" fill="#008000"/><rect x="620.85" y="379.80" width="14" height="14" fill="#008000"/><rect x="625.36" y="380.27" width="14" height="14" fill="#008000"/><rect x="629.39" y="380.70" width="14" height="14" fill="#008000"/></g>
<line x1="128.90" y1="427.66" x2="135.90" y2="427.66" stroke="#000" stroke-width="2"/><line x1="128.90" y1="412.57" x2="135.90" y2="412.57" stroke="#000" stroke-width="2"/><line x1="128.90" y1="397.49" x2="138.10" y2="397.49" stroke="#000" stroke-width="2.4"/><line x1="128.90" y1="382.41" x2="135.90" y2="382.41" stroke="#000" stroke-width="2"/><line x1="128.90" y1="367.32" x2="135.90" y2="367.32" stroke="#000" stroke-width="2"/><line x1="128.90" y1="352.24" x2="135.90" y2="352.24" stroke="#000" stroke-width="2"/><line x1="128.90" y1="337.16" x2="135.90" y2="337.16" stroke="#000" stroke-width="2"/><line x1="128.90" y1="322.07" x2="138.10" y2="322.07" stroke="#000" stroke-width="2.4"/><line x1="128.90" y1="306.99" x2="135.90" y2="306.99" stroke="#000" stroke-width="2"/><line x1="128.90" y1="291.91" x2="135.90" y2="291.91" stroke="#000" stroke-width="2"/><line x1="128.90" y1="276.82" x2="135.90" y2="276.82" stroke="#000" stroke-width="2"/><line x1="128.90" y1="261.74" x2="135.90" y2="261.74" stroke="#000" stroke-width="2"/><line x1="128.90" y1="246.65" x2="138.10" y2="246.65" stroke="#000" stroke-width="2.4"/><line x1="128.90" y1="231.57" x2="135.90" y2="231.57" stroke="#000" stroke-width="2"/><line x1="128.90" y1="216.49" x2="135.90" y2="216.49" stroke="#000" stroke-width="2"/><line x1="128.90" y1="201.40" x2="135.90" y2="201.40" stroke="#000" stroke-width="2"/><line x1="128.90" y1="186.32" x2="135.90" y2="186.32" stroke="#000" stroke-width="2"/><line x1="128.90" y1="171.24" x2="138.10" y2="171.24" stroke="#000" stroke-width="2.4"/><line x1="128.90" y1="156.15" x2="135.90" y2="156.15" stroke="#000" stroke-width="2"/><line x1="128.90" y1="141.07" x2="135.90" y2="141.07" stroke="#000" stroke-width="2"/><line x1="128.90" y1="125.99" x2="135.90" y2="125.99" stroke="#000" stroke-width="2"/><line x1="128.90" y1="110.90" x2="135.90" y2="110.90" stroke="#000" stroke-width="2"/><line x1="128.90" y1="95.82" x2="138.10" y2="95.82" stroke="#000" stroke-width="2.4"/><line x1="128.90" y1="80.73" x2="135.90" y2="80.73" stroke="#000" stroke-width="2"/><line x1="128.90" y1="65.65" x2="135.90" y2="65.65" stroke="#000" stroke-width="2"/><line x1="128.90" y1="50.57" x2="135.90" y2="50.57" stroke="#000" stroke-width="2"/><line x1="128.90" y1="35.48" x2="135.90" y2="35.48" stroke="#000" stroke-width="2"/><line x1="128.90" y1="20.40" x2="138.10" y2="20.40" stroke="#000" stroke-width="2.4"/><line x1="128.90" y1="435.20" x2="128.90" y2="426.00" stroke="#000" stroke-width="2.4"/><line x1="144.21" y1="435.20" x2="144.21" y2="428.20" stroke="#000" stroke-width="2"/><line x1="159.51" y1="435.20" x2="159.51" y2="428.20" stroke="#000" stroke-width="2"/><line x1="174.82" y1="435.20" x2="174.82" y2="428.20" stroke="#000" stroke-width="2"/><line x1="190.12" y1="435.20" x2="190.12" y2="428.20" stroke="#000" stroke-width="2"/><line x1="205.43" y1="435.20" x2="205.43" y2="426.00" stroke="#000" stroke-width="2.4"/><line x1="220.73" y1="435.20" x2="220.73" y2="428.20" stroke="#000" stroke-width="2"/><line x1="236.04" y1="435.20" x2="236.04" y2="428.20" stroke="#000" stroke-width="2"/><line x1="251.35" y1="435.20" x2="251.35" y2="428.20" stroke="#000" stroke-width="2"/><line x1="266.65" y1="435.20" x2="266.65" y2="428.20" stroke="#000" stroke-width="2"/><line x1="281.96" y1="435.20" x2="281.96" y2="426.00" stroke="#000" stroke-width="2.4"/><line x1="297.26" y1="435.20" x2="297.26" y2="428.20" stroke="#000" stroke-width="2"/><line x1="312.57" y1="435.20" x2="312.57" y2="428.20" stroke="#000" stroke-width="2"/><line x1="327.87" y1="435.20" x2="327.87" y2="428.20" stroke="#000" stroke-width="2"/><line x1="343.18" y1="435.20" x2="343.18" y2="428.20" stroke="#000" stroke-width="2"/><line x1="358.49" y1="435.20" x2="358.49" y2="426.00" stroke="#000" stroke-width="2.4"/><line x1="373.79" y1="435.20" x2="373.79" y2="428.20" stroke="#000" stroke-width="2"/><line x1="389.10" y1="435.20" x2="389.10" y2="428.20" stroke="#000" stroke-width="2"/><line x1="404.40" y1="435.20" x2="404.40" y2="428.20" stroke="#000" stroke-width="2"/><line x1="419.71" y1="435.20" x2="419.71" y2="428.20" stroke="#000" stroke-width="2"/><line x1="435.01" y1="435.20" x2="435.01" y2="426.00" stroke="#000" stroke-width="2.4"/><line x1="450.32" y1="435.20" x2="450.32" y2="428.20" stroke="#000" stroke-width="2"/><line x1="465.63" y1="435.20" x2="465.63" y2="428.20" stroke="#000" stroke-width="2"/><line x1="480.93" y1="435.20" x2="480.93" y2="428.20" stroke="#000" stroke-width="2"/><line x1="496.24" y1="435.20" x2="496.24" y2="428.20" stroke="#000" stroke-width="2"/><line x1="511.54" y1="435.20" x2="511.54" y2="426.00" stroke="#000" stroke-width="2.4"/><line x1="526.85" y1="435.20" x2="526.85" y2="428.20" stroke="#000" stroke-width="2"/><line x1="542.15" y1="435.20" x2="542.15" y2="428.20" stroke="#000" stroke-width="2"/><line x1="557.46" y1="435.20" x2="557.46" y2="428.20" stroke="#000" stroke-width="2"/><line x1="572.77" y1="435.20" x2="572.77" y2="428.20" stroke="#000" stroke-width="2"/><line x1="588.07" y1="435.20" x2="588.07" y2="426.00" stroke="#000" stroke-width="2.4"/><line x1="603.38" y1="435.20" x2="603.38" y2="428.20" stroke="#000" stroke-width="2"/><line x1="618.68" y1="435.20" x2="618.68" y2="428.20" stroke="#000" stroke-width="2"/><line x1="633.99" y1="435.20" x2="633.99" y2="428.20" stroke="#000" stroke-width="2"/><line x1="649.29" y1="435.20" x2="649.29" y2="428.20" stroke="#000" stroke-width="2"/><line x1="664.60" y1="435.20" x2="664.60" y2="426.00" stroke="#000" stroke-width="2.4"/>
<rect x="128.90" y="20.40" width="535.70" height="414.80" fill="none" stroke="#000" stroke-width="4.3"/>
<text x="116" y="406.09" text-anchor="end" font-family="Liberation Sans, sans-serif" font-weight="bold" font-size="25.5">0</text><text x="116" y="330.67" text-anchor="end" font-family="Liberation Sans, sans-serif" font-weight="bold" font-size="25.5">20</text><text x="116" y="255.25" text-anchor="end" font-family="Liberation Sans, sans-serif" font-weight="bold" font-size="25.5">40</text><text x="116" y="179.84" text-anchor="end" font-family="Liberation Sans, sans-serif" font-weight="bold" font-size="25.5">60</text><text x="116" y="104.42" text-anchor="end" font-family="Liberation Sans, sans-serif" font-weight="bold" font-size="25.5">80</text><text x="116" y="29.00" text-anchor="end" font-family="Liberation Sans, sans-serif" font-weight="bold" font-size="25.5">100</text><text x="128.90" y="471.20" text-anchor="middle" font-family="Liberation Sans, sans-serif" font-weight="bold" font-size="25.5">4</text><text x="205.43" y="471.20" text-anchor="middle" font-family="Liberation Sans, sans-serif" font-weight="bold" font-size="25.5">6</text><text x="281.96" y="471.20" text-anchor="middle" font-family="Liberation Sans, sans-serif" font-weight="bold" font-size="25.5">8</text><text x="358.49" y="471.20" text-anchor="middle" font-family="Liberation Sans, sans-serif" font-weight="bold" font-size="25.5">10</text><text x="435.01" y="471.20" text-anchor="middle" font-family="Liberation Sans, sans-serif" font-weight="bold" font-size="25.5">12</text><text x="511.54" y="471.20" text-anchor="middle" font-family="Liberation Sans, sans-serif" font-weight="bold" font-size="25.5">14</text><text x="588.07" y="471.20" text-anchor="middle" font-family="Liberation Sans, sans-serif" font-weight="bold" font-size="25.5">16</text><text x="664.60" y="471.20" text-anchor="middle" font-family="Liberation Sans, sans-serif" font-weight="bold" font-size="25.5">18</text>
<text x="360.75" y="89.00" text-anchor="middle" font-family="Liberation Sans, sans-serif" font-weight="bold" font-size="42.3">(A)</text>
<text transform="translate(35.0 228.30) rotate(-90)" text-anchor="middle" font-family="Liberation Serif, serif" font-weight="bold" font-size="38">Dielectric loss <tspan font-size="34">ε</tspan><tspan font-weight="normal" font-size="25" dx="1.5" dy="13">2</tspan></text>
<path d="M195.86 762.51L197.42 763.71L198.98 764.91L200.54 766.11L202.10 767.30L203.66 768.48L205.22 769.65L206.78 770.81L208.34 771.96L209.90 773.10L211.46 774.21L213.02 775.31L214.58 776.39L216.14 777.44L217.70 778.47L219.26 779.47L220.82 780.45L222.38 781.39L223.94 782.31L225.50 783.20L227.06 784.06L228.62 784.91L230.18 785.75L231.74 786.58L233.30 787.41L234.86 788.24L236.42 789.08L237.98 789.94L239.54 790.82L241.10 791.71L242.66 792.64L244.22 793.61L245.78 794.61L247.34 795.66L248.90 796.75L250.46 797.90L252.01 799.07L253.56 800.27L255.11 801.46L256.66 802.64L258.21 803.78L259.76 804.86L261.32 805.87L262.87 806.78L264.42 807.59L265.99 808.28L267.56 808.87L269.14 809.39L270.71 809.86L272.28 810.31L273.85 810.77L275.43 811.27L277.13 811.89L278.84 812.56L280.55 813.29L282.26 814.05L283.97 814.82L285.71 815.61L287.45 816.40L289.20 817.20L290.94 818.02L292.91 818.95L294.87 819.90L296.84 820.86L298.54 821.69L300.25 822.51L301.95 823.32L303.45 824.03L304.95 824.73L306.46 825.41L308.47 826.30L310.49 827.17L312.05 827.84L313.61 828.49L315.17 829.14L316.73 829.78L318.29 830.40L319.85 831.03L321.41 831.64L322.97 832.24L324.53 832.84L326.09 833.43L327.65 834.00L329.21 834.57L330.77 835.14L332.33 835.69L333.89 836.23L335.45 836.76L337.01 837.29L338.56 837.80L340.11 838.30L341.67 838.80L343.22 839.29L344.77 839.77L346.32 840.25L347.87 840.72L349.42 841.19L350.97 841.65L352.53 842.11L354.10 842.57L355.67 843.03L357.24 843.48L358.82 843.93L360.39 844.38L361.96 844.82L363.53 845.26L365.24 845.73L366.95 846.20L368.66 846.66L370.36 847.12L372.07 847.57L373.82 848.03L375.56 848.49L377.30 848.94L379.05 849.39L381.01 849.88L382.98 850.38L384.95 850.86L386.65 851.28L388.35 851.70L390.06 852.11L391.56 852.47L393.06 852.83L394.56 853.18L396.58 853.66L398.60 854.13L400.16 854.48L401.72 854.84L403.28 855.19L404.84 855.53L406.40 855.87L407.96 856.21L409.52 856.54L411.08 856.86L412.64 857.19L414.20 857.51L415.76 857.82L417.32 858.13L418.88 858.44L420.44 858.74L422.00 859.04L423.56 859.33L425.12 859.62L426.67 859.90L428.22 860.18L429.77 860.46L431.32 860.73L432.88 861.00L434.43 861.26L435.98 861.52L437.53 861.78L439.08 862.03L440.63 862.28L442.21 862.53L443.78 862.78L445.35 863.02L446.92 863.26L448.50 863.50L450.07 863.73L451.64 863.95L453.35 864.19L455.06 864.43L456.76 864.66L458.47 864.88L460.18 865.10L461.92 865.32L463.67 865.54L465.41 865.75L467.16 865.96L469.12 866.20L471.09 866.43L473.05 866.66L474.76 866.87L476.46 867.07L478.16 867.28L479.67 867.46L481.17 867.65L482.67 867.84L484.69 868.10L486.70 868.36L488.26 868.57L489.82 868.78L491.38 869.00L492.94 869.22L494.50 869.44L496.06 869.66L497.62 869.88L499.18 870.11L500.74 870.33L502.30 870.56L503.86 870.78L505.42 871.01L506.98 871.23L508.54 871.45L510.10 871.67L511.66 871.88L513.22 872.09L514.78 872.30L516.33 872.50L517.88 872.71L519.43 872.90L520.98 873.10L522.53 873.30L524.08 873.49L525.64 873.68L527.19 873.88L528.74 874.07L530.31 874.27L531.88 874.46L533.46 874.66L535.03 874.85L536.60 875.05L538.17 875.24L539.75 875.43L541.46 875.64L543.16 875.84L544.87 876.04L546.58 876.24L548.29 876.44L550.03 876.64L551.77 876.83L553.52 877.03L555.26 877.21L557.23 877.42L559.19 877.63L561.16 877.83L562.86 878.00L564.57 878.17L566.27 878.33L567.77 878.47L569.27 878.61L570.78 878.74L572.79 878.91L574.81 879.08L576.36 879.21L577.91 879.34L579.46 879.46L581.01 879.59L582.57 879.71L584.12 879.83L585.67 879.95L587.22 880.07L588.77 880.18L590.32 880.30L591.90 880.42L593.47 880.53L595.04 880.65L596.61 880.76L598.19 880.87L599.76 880.98L601.33 881.09L603.04 881.21L604.75 881.32L606.45 881.43L608.16 881.54L609.87 881.65L611.61 881.76L613.36 881.86L615.10 881.97L616.85 882.07L618.81 882.18L620.78 882.29L622.74 882.39L624.45 882.48L626.15 882.56L627.85 882.64L629.36 882.71L630.86 882.78L632.36 882.85L634.38 882.93L636.39 883.01" fill="none" stroke="#000000" stroke-width="3.8" stroke-linejoin="round"/>
<g><circle cx="195.86" cy="762.51" r="8" fill="#000000"/><circle cx="222.38" cy="781.39" r="8" fill="#000000"/><circle cx="248.90" cy="796.75" r="8" fill="#000000"/><circle cx="264.42" cy="807.59" r="8" fill="#000000"/><circle cx="275.43" cy="811.27" r="8" fill="#000000"/><circle cx="283.97" cy="814.82" r="8" fill="#000000"/><circle cx="290.94" cy="818.02" r="8" fill="#000000"/><circle cx="296.84" cy="820.86" r="8" fill="#000000"/><circle cx="301.95" cy="823.32" r="8" fill="#000000"/><circle cx="306.46" cy="825.41" r="8" fill="#000000"/><circle cx="310.49" cy="827.17" r="8" fill="#000000"/><circle cx="337.01" cy="837.29" r="8" fill="#000000"/><circle cx="352.53" cy="842.11" r="8" fill="#000000"/><circle cx="363.53" cy="845.26" r="8" fill="#000000"/><circle cx="372.07" cy="847.57" r="8" fill="#000000"/><circle cx="379.05" cy="849.39" r="8" fill="#000000"/><circle cx="384.95" cy="850.86" r="8" fill="#000000"/><circle cx="390.06" cy="852.11" r="8" fill="#000000"/><circle cx="394.56" cy="853.18" r="8" fill="#000000"/><circle cx="398.60" cy="854.13" r="8" fill="#000000"/><circle cx="425.12" cy="859.62" r="8" fill="#000000"/><circle cx="440.63" cy="862.28" r="8" fill="#000000"/><circle cx="451.64" cy="863.95" r="8" fill="#000000"/><circle cx="460.18" cy="865.10" r="8" fill="#000000"/><circle cx="467.16" cy="865.96" r="8" fill="#000000"/><circle cx="473.05" cy="866.66" r="8" fill="#000000"/><circle cx="478.16" cy="867.28" r="8" fill="#000000"/><circle cx="482.67" cy="867.84" r="8" fill="#000000"/><circle cx="486.70" cy="868.36" r="8" fill="#000000"/><circle cx="513.22" cy="872.09" r="8" fill="#000000"/><circle cx="528.74" cy="874.07" r="8" fill="#000000"/><circle cx="539.75" cy="875.43" r="8" fill="#000000"/><circle cx="548.29" cy="876.44" r="8" fill="#000000"/><circle cx="555.26" cy="877.21" r="8" fill="#000000"/><circle cx="561.16" cy="877.83" r="8" fill="#000000"/><circle cx="566.27" cy="878.33" r="8" fill="#000000"/><circle cx="570.78" cy="878.74" r="8" fill="#000000"/><circle cx="574.81" cy="879.08" r="8" fill="#000000"/><circle cx="590.32" cy="880.30" r="8" fill="#000000"/><circle cx="601.33" cy="881.09" r="8" fill="#000000"/><circle cx="609.87" cy="881.65" r="8" fill="#000000"/><circle cx="616.85" cy="882.07" r="8" fill="#000000"/><circle cx="622.74" cy="882.39" r="8" fill="#000000"/><circle cx="627.85" cy="882.64" r="8" fill="#000000"/><circle cx="632.36" cy="882.85" r="8" fill="#000000"/><circle cx="636.39" cy="883.01" r="8" fill="#000000"/></g>
<path d="M195.86 780.88L197.42 782.15L198.98 783.41L200.54 784.67L202.10 785.93L203.66 787.17L205.22 788.41L206.78 789.64L208.34 790.85L209.90 792.05L211.46 793.23L213.02 794.39L214.58 795.53L216.14 796.65L217.70 797.74L219.26 798.81L220.82 799.85L222.38 800.85L223.94 801.83L225.50 802.77L227.06 803.69L228.62 804.57L230.18 805.43L231.74 806.26L233.30 807.07L234.86 807.85L236.42 808.62L237.98 809.36L239.54 810.08L241.10 810.78L242.66 811.46L244.22 812.13L245.78 812.79L247.34 813.43L248.90 814.06L250.46 814.67L252.01 815.28L253.56 815.89L255.11 816.49L256.66 817.09L258.21 817.70L259.76 818.32L261.32 818.96L262.87 819.61L264.42 820.27L265.99 820.97L267.56 821.68L269.14 822.41L270.71 823.14L272.28 823.86L273.85 824.57L275.43 825.27L277.13 826.00L278.84 826.70L280.55 827.39L282.26 828.07L283.97 828.75L285.71 829.43L287.45 830.12L289.20 830.79L290.94 831.47L292.91 832.21L294.87 832.94L296.84 833.67L298.54 834.28L300.25 834.89L301.95 835.49L303.45 836.01L304.95 836.52L306.46 837.03L308.47 837.69L310.49 838.34L312.05 838.83L313.61 839.31L315.17 839.77L316.73 840.22L318.29 840.67L319.85 841.10L321.41 841.54L322.97 841.96L324.53 842.39L326.09 842.81L327.65 843.23L329.21 843.65L330.77 844.07L332.33 844.50L333.89 844.93L335.45 845.37L337.01 845.82L338.56 846.27L340.11 846.73L341.67 847.19L343.22 847.65L344.77 848.11L346.32 848.56L347.87 849.00L349.42 849.43L350.97 849.85L352.53 850.24L354.10 850.63L355.67 850.99L357.24 851.34L358.82 851.68L360.39 852.00L361.96 852.32L363.53 852.63L365.24 852.97L366.95 853.30L368.66 853.63L370.36 853.95L372.07 854.27L373.82 854.59L375.56 854.91L377.30 855.22L379.05 855.53L381.01 855.87L382.98 856.21L384.95 856.55L386.65 856.85L388.35 857.14L390.06 857.44L391.56 857.70L393.06 857.96L394.56 858.22L396.58 858.58L398.60 858.94L400.16 859.23L401.72 859.53L403.28 859.83L404.84 860.13L406.40 860.44L407.96 860.74L409.52 861.04L411.08 861.34L412.64 861.64L414.20 861.92L415.76 862.20L417.32 862.46L418.88 862.71L420.44 862.95L422.00 863.17L423.56 863.37L425.12 863.55L426.67 863.71L428.22 863.86L429.77 864.00L431.32 864.13L432.88 864.27L434.43 864.42L435.98 864.59L437.53 864.79L439.08 865.01L440.63 865.28L442.21 865.59L443.78 865.93L445.35 866.29L446.92 866.66L448.50 867.02L450.07 867.36L451.64 867.67L453.35 867.95L455.06 868.19L456.76 868.40L458.47 868.59L460.18 868.77L461.92 868.95L463.67 869.13L465.41 869.31L467.16 869.48L469.12 869.66L471.09 869.84L473.05 870.01L474.76 870.15L476.46 870.30L478.16 870.44L479.67 870.57L481.17 870.70L482.67 870.83L484.69 871.02L486.70 871.20L488.26 871.34L489.82 871.48L491.38 871.62L492.94 871.75L494.50 871.89L496.06 872.02L497.62 872.15L499.18 872.29L500.74 872.42L502.30 872.56L503.86 872.70L505.42 872.84L506.98 872.99L508.54 873.14L510.10 873.29L511.66 873.45L513.22 873.62L514.78 873.79L516.33 873.97L517.88 874.15L519.43 874.33L520.98 874.51L522.53 874.69L524.08 874.87L525.64 875.04L527.19 875.20L528.74 875.35L530.31 875.50L531.88 875.63L533.46 875.76L535.03 875.88L536.60 876.00L538.17 876.11L539.75 876.22L541.46 876.34L543.16 876.46L544.87 876.58L546.58 876.69L548.29 876.80L550.03 876.91L551.77 877.02L553.52 877.13L555.26 877.24L557.23 877.36L559.19 877.48L561.16 877.59L562.86 877.69L564.57 877.80L566.27 877.90L567.77 877.99L569.27 878.08L570.78 878.17L572.79 878.30L574.81 878.42L576.36 878.52L577.91 878.62L579.46 878.72L581.01 878.82L582.57 878.91L584.12 879.01L585.67 879.11L587.22 879.20L588.77 879.30L590.32 879.40L591.90 879.50L593.47 879.59L595.04 879.69L596.61 879.79L598.19 879.88L599.76 879.98L601.33 880.08L603.04 880.18L604.75 880.28L606.45 880.39L608.16 880.49L609.87 880.59L611.61 880.70L613.36 880.80L615.10 880.90L616.85 881.01L618.81 881.12L620.78 881.24L622.74 881.35L624.45 881.45L626.15 881.55L627.85 881.65L629.36 881.74L630.86 881.82L632.36 881.91L634.38 882.03L636.39 882.14" fill="none" stroke="#ff0000" stroke-width="3.8" stroke-linejoin="round"/>
<g><path d="M187.86 775.88H203.86L195.86 790.88Z" fill="#ff0000"/><path d="M214.38 795.85H230.38L222.38 810.85Z" fill="#ff0000"/><path d="M240.90 809.06H256.90L248.90 824.06Z" fill="#ff0000"/><path d="M256.42 815.27H272.42L264.42 830.27Z" fill="#ff0000"/><path d="M267.43 820.27H283.43L275.43 835.27Z" fill="#ff0000"/><path d="M275.97 823.75H291.97L283.97 838.75Z" fill="#ff0000"/><path d="M282.94 826.47H298.94L290.94 841.47Z" fill="#ff0000"/><path d="M288.84 828.67H304.84L296.84 843.67Z" fill="#ff0000"/><path d="M293.95 830.49H309.95L301.95 845.49Z" fill="#ff0000"/><path d="M298.46 832.03H314.46L306.46 847.03Z" fill="#ff0000"/><path d="M302.49 833.34H318.49L310.49 848.34Z" fill="#ff0000"/><path d="M329.01 840.82H345.01L337.01 855.82Z" fill="#ff0000"/><path d="M344.53 845.24H360.53L352.53 860.24Z" fill="#ff0000"/><path d="M355.53 847.63H371.53L363.53 862.63Z" fill="#ff0000"/><path d="M364.07 849.27H380.07L372.07 864.27Z" fill="#ff0000"/><path d="M371.05 850.53H387.05L379.05 865.53Z" fill="#ff0000"/><path d="M376.95 851.55H392.95L384.95 866.55Z" fill="#ff0000"/><path d="M382.06 852.44H398.06L390.06 867.44Z" fill="#ff0000"/><path d="M386.56 853.22H402.56L394.56 868.22Z" fill="#ff0000"/><path d="M390.60 853.94H406.60L398.60 868.94Z" fill="#ff0000"/><path d="M417.12 858.55H433.12L425.12 873.55Z" fill="#ff0000"/><path d="M432.63 860.28H448.63L440.63 875.28Z" fill="#ff0000"/><path d="M443.64 862.67H459.64L451.64 877.67Z" fill="#ff0000"/><path d="M452.18 863.77H468.18L460.18 878.77Z" fill="#ff0000"/><path d="M459.16 864.48H475.16L467.16 879.48Z" fill="#ff0000"/><path d="M465.05 865.01H481.05L473.05 880.01Z" fill="#ff0000"/><path d="M470.16 865.44H486.16L478.16 880.44Z" fill="#ff0000"/><path d="M474.67 865.83H490.67L482.67 880.83Z" fill="#ff0000"/><path d="M478.70 866.20H494.70L486.70 881.20Z" fill="#ff0000"/><path d="M505.22 868.62H521.22L513.22 883.62Z" fill="#ff0000"/><path d="M520.74 870.35H536.74L528.74 885.35Z" fill="#ff0000"/><path d="M531.75 871.22H547.75L539.75 886.22Z" fill="#ff0000"/><path d="M540.29 871.80H556.29L548.29 886.80Z" fill="#ff0000"/><path d="M547.26 872.24H563.26L555.26 887.24Z" fill="#ff0000"/><path d="M553.16 872.59H569.16L561.16 887.59Z" fill="#ff0000"/><path d="M558.27 872.90H574.27L566.27 887.90Z" fill="#ff0000"/><path d="M562.78 873.17H578.78L570.78 888.17Z" fill="#ff0000"/><path d="M566.81 873.42H582.81L574.81 888.42Z" fill="#ff0000"/><path d="M582.32 874.40H598.32L590.32 889.40Z" fill="#ff0000"/><path d="M593.33 875.08H609.33L601.33 890.08Z" fill="#ff0000"/><path d="M601.87 875.59H617.87L609.87 890.59Z" fill="#ff0000"/><path d="M608.85 876.01H624.85L616.85 891.01Z" fill="#ff0000"/><path d="M614.74 876.35H630.74L622.74 891.35Z" fill="#ff0000"/><path d="M619.85 876.65H635.85L627.85 891.65Z" fill="#ff0000"/><path d="M624.36 876.91H640.36L632.36 891.91Z" fill="#ff0000"/><path d="M628.39 877.14H644.39L636.39 892.14Z" fill="#ff0000"/></g>
<path d="M195.86 740.64L197.42 742.18L198.98 743.72L200.54 745.26L202.10 746.80L203.66 748.33L205.22 749.87L206.78 751.40L208.34 752.93L209.90 754.46L211.46 755.99L213.02 757.51L214.58 759.03L216.14 760.54L217.70 762.05L219.26 763.56L220.82 765.06L222.38 766.56L223.94 768.05L225.50 769.53L227.06 771.01L228.62 772.47L230.18 773.92L231.74 775.36L233.30 776.78L234.86 778.19L236.42 779.57L237.98 780.94L239.54 782.28L241.10 783.59L242.66 784.88L244.22 786.15L245.78 787.38L247.34 788.58L248.90 789.74L250.46 790.87L252.01 791.96L253.56 793.02L255.11 794.04L256.66 795.03L258.21 795.99L259.76 796.92L261.32 797.81L262.87 798.68L264.42 799.51L265.99 800.32L267.56 801.12L269.14 801.92L270.71 802.72L272.28 803.56L273.85 804.43L275.43 805.36L277.13 806.44L278.84 807.60L280.55 808.83L282.26 810.12L283.97 811.46L285.71 812.89L287.45 814.34L289.20 815.82L290.94 817.31L292.91 818.97L294.87 820.61L296.84 822.21L298.54 823.55L300.25 824.83L301.95 826.04L303.45 827.05L304.95 827.98L306.46 828.83L308.47 829.83L310.49 830.68L312.05 831.26L313.61 831.79L315.17 832.26L316.73 832.69L318.29 833.08L319.85 833.43L321.41 833.77L322.97 834.08L324.53 834.39L326.09 834.69L327.65 835.00L329.21 835.31L330.77 835.65L332.33 836.01L333.89 836.39L335.45 836.82L337.01 837.29L338.56 837.81L340.11 838.36L341.67 838.95L343.22 839.57L344.77 840.20L346.32 840.83L347.87 841.47L349.42 842.09L350.97 842.69L352.53 843.26L354.10 843.80L355.67 844.31L357.24 844.79L358.82 845.24L360.39 845.68L361.96 846.11L363.53 846.54L365.24 847.00L366.95 847.45L368.66 847.91L370.36 848.36L372.07 848.80L373.82 849.25L375.56 849.68L377.30 850.11L379.05 850.54L381.01 851.01L382.98 851.49L384.95 851.96L386.65 852.36L388.35 852.77L390.06 853.17L391.56 853.53L393.06 853.89L394.56 854.25L396.58 854.73L398.60 855.22L400.16 855.60L401.72 855.99L403.28 856.38L404.84 856.78L406.40 857.17L407.96 857.56L409.52 857.95L411.08 858.33L412.64 858.71L414.20 859.08L415.76 859.44L417.32 859.80L418.88 860.14L420.44 860.47L422.00 860.78L423.56 861.08L425.12 861.37L426.67 861.63L428.22 861.88L429.77 862.12L431.32 862.34L432.88 862.55L434.43 862.76L435.98 862.96L437.53 863.15L439.08 863.35L440.63 863.54L442.21 863.74L443.78 863.93L445.35 864.14L446.92 864.35L448.50 864.57L450.07 864.80L451.64 865.04L453.35 865.32L455.06 865.61L456.76 865.92L458.47 866.24L460.18 866.56L461.92 866.91L463.67 867.26L465.41 867.61L467.16 867.97L469.12 868.37L471.09 868.78L473.05 869.18L474.76 869.52L476.46 869.85L478.16 870.18L479.67 870.46L481.17 870.74L482.67 871.00L484.69 871.33L486.70 871.64L488.26 871.88L489.82 872.10L491.38 872.33L492.94 872.54L494.50 872.75L496.06 872.96L497.62 873.16L499.18 873.35L500.74 873.55L502.30 873.73L503.86 873.91L505.42 874.09L506.98 874.27L508.54 874.44L510.10 874.61L511.66 874.77L513.22 874.93L514.78 875.09L516.33 875.25L517.88 875.40L519.43 875.55L520.98 875.70L522.53 875.85L524.08 876.00L525.64 876.14L527.19 876.28L528.74 876.43L530.31 876.57L531.88 876.71L533.46 876.85L535.03 876.99L536.60 877.12L538.17 877.26L539.75 877.39L541.46 877.54L543.16 877.68L544.87 877.82L546.58 877.95L548.29 878.09L550.03 878.23L551.77 878.36L553.52 878.49L555.26 878.62L557.23 878.77L559.19 878.91L561.16 879.05L562.86 879.17L564.57 879.29L566.27 879.40L567.77 879.50L569.27 879.60L570.78 879.70L572.79 879.83L574.81 879.95L576.36 880.05L577.91 880.15L579.46 880.24L581.01 880.33L582.57 880.43L584.12 880.52L585.67 880.61L587.22 880.70L588.77 880.79L590.32 880.88L591.90 880.97L593.47 881.05L595.04 881.14L596.61 881.23L598.19 881.31L599.76 881.40L601.33 881.48L603.04 881.57L604.75 881.66L606.45 881.74L608.16 881.83L609.87 881.91L611.61 882.00L613.36 882.08L615.10 882.16L616.85 882.24L618.81 882.33L620.78 882.41L622.74 882.50L624.45 882.57L626.15 882.63L627.85 882.70L629.36 882.76L630.86 882.82L632.36 882.87L634.38 882.94L636.39 883.01" fill="none" stroke="#0000ff" stroke-width="3.8" stroke-linejoin="round"/>
<g><path d="M187.86 745.44H203.86L195.86 731.04Z" fill="#0000ff"/><path d="M214.38 771.36H230.38L222.38 756.96Z" fill="#0000ff"/><path d="M240.90 794.54H256.90L248.90 780.14Z" fill="#0000ff"/><path d="M256.42 804.31H272.42L264.42 789.91Z" fill="#0000ff"/><path d="M267.43 810.16H283.43L275.43 795.76Z" fill="#0000ff"/><path d="M275.97 816.26H291.97L283.97 801.86Z" fill="#0000ff"/><path d="M282.94 822.11H298.94L290.94 807.71Z" fill="#0000ff"/><path d="M288.84 827.01H304.84L296.84 812.61Z" fill="#0000ff"/><path d="M293.95 830.84H309.95L301.95 816.44Z" fill="#0000ff"/><path d="M298.46 833.63H314.46L306.46 819.23Z" fill="#0000ff"/><path d="M302.49 835.48H318.49L310.49 821.08Z" fill="#0000ff"/><path d="M329.01 842.09H345.01L337.01 827.69Z" fill="#0000ff"/><path d="M344.53 848.06H360.53L352.53 833.66Z" fill="#0000ff"/><path d="M355.53 851.34H371.53L363.53 836.94Z" fill="#0000ff"/><path d="M364.07 853.60H380.07L372.07 839.20Z" fill="#0000ff"/><path d="M371.05 855.34H387.05L379.05 840.94Z" fill="#0000ff"/><path d="M376.95 856.76H392.95L384.95 842.36Z" fill="#0000ff"/><path d="M382.06 857.97H398.06L390.06 843.57Z" fill="#0000ff"/><path d="M386.56 859.05H402.56L394.56 844.65Z" fill="#0000ff"/><path d="M390.60 860.02H406.60L398.60 845.62Z" fill="#0000ff"/><path d="M417.12 866.17H433.12L425.12 851.77Z" fill="#0000ff"/><path d="M432.63 868.34H448.63L440.63 853.94Z" fill="#0000ff"/><path d="M443.64 869.84H459.64L451.64 855.44Z" fill="#0000ff"/><path d="M452.18 871.36H468.18L460.18 856.96Z" fill="#0000ff"/><path d="M459.16 872.77H475.16L467.16 858.37Z" fill="#0000ff"/><path d="M465.05 873.98H481.05L473.05 859.58Z" fill="#0000ff"/><path d="M470.16 874.98H486.16L478.16 860.58Z" fill="#0000ff"/><path d="M474.67 875.80H490.67L482.67 861.40Z" fill="#0000ff"/><path d="M478.70 876.44H494.70L486.70 862.04Z" fill="#0000ff"/><path d="M505.22 879.73H521.22L513.22 865.33Z" fill="#0000ff"/><path d="M520.74 881.23H536.74L528.74 866.83Z" fill="#0000ff"/><path d="M531.75 882.19H547.75L539.75 867.79Z" fill="#0000ff"/><path d="M540.29 882.89H556.29L548.29 868.49Z" fill="#0000ff"/><path d="M547.26 883.42H563.26L555.26 869.02Z" fill="#0000ff"/><path d="M553.16 883.85H569.16L561.16 869.45Z" fill="#0000ff"/><path d="M558.27 884.20H574.27L566.27 869.80Z" fill="#0000ff"/><path d="M562.78 884.50H578.78L570.78 870.10Z" fill="#0000ff"/><path d="M566.81 884.75H582.81L574.81 870.35Z" fill="#0000ff"/><path d="M582.32 885.68H598.32L590.32 871.28Z" fill="#0000ff"/><path d="M593.33 886.28H609.33L601.33 871.88Z" fill="#0000ff"/><path d="M601.87 886.71H617.87L609.87 872.31Z" fill="#0000ff"/><path d="M608.85 887.04H624.85L616.85 872.64Z" fill="#0000ff"/><path d="M614.74 887.30H630.74L622.74 872.90Z" fill="#0000ff"/><path d="M619.85 887.50H635.85L627.85 873.10Z" fill="#0000ff"/><path d="M624.36 887.67H640.36L632.36 873.27Z" fill="#0000ff"/><path d="M628.39 887.81H644.39L636.39 873.41Z" fill="#0000ff"/></g>
<path d="M195.86 670.88L197.42 673.34L198.98 675.80L200.54 678.26L202.10 680.71L203.66 683.15L205.22 685.57L206.78 687.99L208.34 690.38L209.90 692.76L211.46 695.12L213.02 697.46L214.58 699.76L216.14 702.05L217.70 704.30L219.26 706.51L220.82 708.70L222.38 710.84L223.94 712.95L225.50 715.02L227.06 717.06L228.62 719.07L230.18 721.04L231.74 723.00L233.30 724.93L234.86 726.85L236.42 728.75L237.98 730.63L239.54 732.51L241.10 734.38L242.66 736.25L244.22 738.12L245.78 739.99L247.34 741.87L248.90 743.75L250.46 745.64L252.01 747.52L253.56 749.40L255.11 751.26L256.66 753.09L258.21 754.89L259.76 756.63L261.32 758.32L262.87 759.94L264.42 761.48L265.99 762.95L267.56 764.35L269.14 765.68L270.71 766.94L272.28 768.17L273.85 769.35L275.43 770.52L277.13 771.76L278.84 772.99L280.55 774.19L282.26 775.38L283.97 776.55L285.71 777.71L287.45 778.86L289.20 779.99L290.94 781.11L292.91 782.37L294.87 783.62L296.84 784.87L298.54 785.96L300.25 787.05L301.95 788.15L303.45 789.13L304.95 790.12L306.46 791.12L308.47 792.49L310.49 793.89L312.05 795.00L313.61 796.12L315.17 797.27L316.73 798.42L318.29 799.58L319.85 800.75L321.41 801.91L322.97 803.07L324.53 804.22L326.09 805.36L327.65 806.47L329.21 807.57L330.77 808.64L332.33 809.68L333.89 810.68L335.45 811.64L337.01 812.57L338.56 813.44L340.11 814.27L341.67 815.06L343.22 815.82L344.77 816.54L346.32 817.24L347.87 817.93L349.42 818.59L350.97 819.24L352.53 819.88L354.10 820.52L355.67 821.16L357.24 821.79L358.82 822.41L360.39 823.02L361.96 823.63L363.53 824.22L365.24 824.85L366.95 825.46L368.66 826.07L370.36 826.67L372.07 827.27L373.82 827.88L375.56 828.49L377.30 829.10L379.05 829.71L381.01 830.41L382.98 831.12L384.95 831.83L386.65 832.46L388.35 833.10L390.06 833.75L391.56 834.34L393.06 834.94L394.56 835.55L396.58 836.39L398.60 837.27L400.16 838.01L401.72 838.78L403.28 839.59L404.84 840.43L406.40 841.29L407.96 842.16L409.52 843.04L411.08 843.93L412.64 844.81L414.20 845.68L415.76 846.53L417.32 847.35L418.88 848.15L420.44 848.90L422.00 849.62L423.56 850.28L425.12 850.88L426.67 851.42L428.22 851.90L429.77 852.34L431.32 852.73L432.88 853.10L434.43 853.44L435.98 853.78L437.53 854.10L439.08 854.43L440.63 854.77L442.21 855.13L443.78 855.51L445.35 855.90L446.92 856.30L448.50 856.71L450.07 857.12L451.64 857.54L453.35 857.98L455.06 858.42L456.76 858.86L458.47 859.29L460.18 859.72L461.92 860.16L463.67 860.59L465.41 861.02L467.16 861.45L469.12 861.92L471.09 862.38L473.05 862.82L474.76 863.20L476.46 863.57L478.16 863.93L479.67 864.23L481.17 864.53L482.67 864.81L484.69 865.18L486.70 865.52L488.26 865.77L489.82 866.01L491.38 866.24L492.94 866.46L494.50 866.67L496.06 866.88L497.62 867.08L499.18 867.27L500.74 867.47L502.30 867.66L503.86 867.85L505.42 868.04L506.98 868.23L508.54 868.42L510.10 868.62L511.66 868.82L513.22 869.03L514.78 869.25L516.33 869.47L517.88 869.70L519.43 869.93L520.98 870.17L522.53 870.42L524.08 870.66L525.64 870.91L527.19 871.16L528.74 871.42L530.31 871.68L531.88 871.94L533.46 872.20L535.03 872.46L536.60 872.73L538.17 872.99L539.75 873.25L541.46 873.54L543.16 873.82L544.87 874.10L546.58 874.38L548.29 874.65L550.03 874.93L551.77 875.21L553.52 875.48L555.26 875.74L557.23 876.04L559.19 876.32L561.16 876.59L562.86 876.83L564.57 877.05L566.27 877.27L567.77 877.45L569.27 877.63L570.78 877.79L572.79 878.01L574.81 878.21L576.36 878.36L577.91 878.51L579.46 878.66L581.01 878.81L582.57 878.95L584.12 879.09L585.67 879.23L587.22 879.37L588.77 879.51L590.32 879.64L591.90 879.78L593.47 879.91L595.04 880.05L596.61 880.18L598.19 880.31L599.76 880.44L601.33 880.56L603.04 880.69L604.75 880.82L606.45 880.95L608.16 881.07L609.87 881.20L611.61 881.31L613.36 881.43L615.10 881.54L616.85 881.65L618.81 881.77L620.78 881.88L622.74 881.99L624.45 882.08L626.15 882.16L627.85 882.24L629.36 882.31L630.86 882.37L632.36 882.43L634.38 882.51L636.39 882.57" fill="none" stroke="#800000" stroke-width="3.8" stroke-linejoin="round"/>
<g><rect x="188.86" y="663.88" width="14" height="14" fill="#800000"/><rect x="215.38" y="703.84" width="14" height="14" fill="#800000"/><rect x="241.90" y="736.75" width="14" height="14" fill="#800000"/><rect x="257.42" y="754.48" width="14" height="14" fill="#800000"/><rect x="268.43" y="763.52" width="14" height="14" fill="#800000"/><rect x="276.97" y="769.55" width="14" height="14" fill="#800000"/><rect x="283.94" y="774.11" width="14" height="14" fill="#800000"/><rect x="289.84" y="777.87" width="14" height="14" fill="#800000"/><rect x="294.95" y="781.15" width="14" height="14" fill="#800000"/><rect x="299.46" y="784.12" width="14" height="14" fill="#800000"/><rect x="303.49" y="786.89" width="14" height="14" fill="#800000"/><rect x="330.01" y="805.57" width="14" height="14" fill="#800000"/><rect x="345.53" y="812.88" width="14" height="14" fill="#800000"/><rect x="356.53" y="817.22" width="14" height="14" fill="#800000"/><rect x="365.07" y="820.27" width="14" height="14" fill="#800000"/><rect x="372.05" y="822.71" width="14" height="14" fill="#800000"/><rect x="377.95" y="824.83" width="14" height="14" fill="#800000"/><rect x="383.06" y="826.75" width="14" height="14" fill="#800000"/><rect x="387.56" y="828.55" width="14" height="14" fill="#800000"/><rect x="391.60" y="830.27" width="14" height="14" fill="#800000"/><rect x="418.12" y="843.88" width="14" height="14" fill="#800000"/><rect x="433.63" y="847.77" width="14" height="14" fill="#800000"/><rect x="444.64" y="850.54" width="14" height="14" fill="#800000"/><rect x="453.18" y="852.72" width="14" height="14" fill="#800000"/><rect x="460.16" y="854.45" width="14" height="14" fill="#800000"/><rect x="466.05" y="855.82" width="14" height="14" fill="#800000"/><rect x="471.16" y="856.93" width="14" height="14" fill="#800000"/><rect x="475.67" y="857.81" width="14" height="14" fill="#800000"/><rect x="479.70" y="858.52" width="14" height="14" fill="#800000"/><rect x="506.22" y="862.03" width="14" height="14" fill="#800000"/><rect x="521.74" y="864.42" width="14" height="14" fill="#800000"/><rect x="532.75" y="866.25" width="14" height="14" fill="#800000"/><rect x="541.29" y="867.65" width="14" height="14" fill="#800000"/><rect x="548.26" y="868.74" width="14" height="14" fill="#800000"/><rect x="554.16" y="869.59" width="14" height="14" fill="#800000"/><rect x="559.27" y="870.27" width="14" height="14" fill="#800000"/><rect x="563.78" y="870.79" width="14" height="14" fill="#800000"/><rect x="567.81" y="871.21" width="14" height="14" fill="#800000"/><rect x="583.32" y="872.64" width="14" height="14" fill="#800000"/><rect x="594.33" y="873.56" width="14" height="14" fill="#800000"/><rect x="602.87" y="874.20" width="14" height="14" fill="#800000"/><rect x="609.85" y="874.65" width="14" height="14" fill="#800000"/><rect x="615.74" y="874.99" width="14" height="14" fill="#800000"/><rect x="620.85" y="875.24" width="14" height="14" fill="#800000"/><rect x="625.36" y="875.43" width="14" height="14" fill="#800000"/><rect x="629.39" y="875.57" width="14" height="14" fill="#800000"/></g>
<path d="M195.86 700.62L197.42 702.88L198.98 705.13L200.54 707.38L202.10 709.63L203.66 711.86L205.22 714.08L206.78 716.28L208.34 718.46L209.90 720.63L211.46 722.77L213.02 724.88L214.58 726.96L216.14 729.01L217.70 731.03L219.26 733.01L220.82 734.95L222.38 736.85L223.94 738.70L225.50 740.51L227.06 742.29L228.62 744.02L230.18 745.73L231.74 747.40L233.30 749.05L234.86 750.68L236.42 752.28L237.98 753.87L239.54 755.44L241.10 757.01L242.66 758.56L244.22 760.11L245.78 761.66L247.34 763.22L248.90 764.77L250.46 766.33L252.01 767.88L253.56 769.44L255.11 770.99L256.66 772.52L258.21 774.04L259.76 775.54L261.32 777.01L262.87 778.44L264.42 779.84L265.99 781.22L267.56 782.56L269.14 783.87L270.71 785.15L272.28 786.41L273.85 787.66L275.43 788.90L277.13 790.24L278.84 791.57L280.55 792.90L282.26 794.21L283.97 795.50L285.71 796.80L287.45 798.08L289.20 799.34L290.94 800.57L292.91 801.94L294.87 803.29L296.84 804.61L298.54 805.73L300.25 806.82L301.95 807.90L303.45 808.83L304.95 809.74L306.46 810.63L308.47 811.80L310.49 812.94L312.05 813.80L313.61 814.65L315.17 815.48L316.73 816.30L318.29 817.10L319.85 817.89L321.41 818.65L322.97 819.40L324.53 820.14L326.09 820.85L327.65 821.54L329.21 822.21L330.77 822.87L332.33 823.50L333.89 824.11L335.45 824.69L337.01 825.26L338.56 825.80L340.11 826.32L341.67 826.82L343.22 827.32L344.77 827.81L346.32 828.30L347.87 828.80L349.42 829.31L350.97 829.83L352.53 830.36L354.10 830.93L355.67 831.52L357.24 832.13L358.82 832.76L360.39 833.40L361.96 834.05L363.53 834.71L365.24 835.44L366.95 836.18L368.66 836.93L370.36 837.68L372.07 838.43L373.82 839.20L375.56 839.97L377.30 840.74L379.05 841.51L381.01 842.36L382.98 843.20L384.95 844.02L386.65 844.72L388.35 845.41L390.06 846.07L391.56 846.65L393.06 847.20L394.56 847.74L396.58 848.43L398.60 849.09L400.16 849.59L401.72 850.07L403.28 850.54L404.84 851.00L406.40 851.45L407.96 851.89L409.52 852.32L411.08 852.73L412.64 853.14L414.20 853.54L415.76 853.93L417.32 854.32L418.88 854.69L420.44 855.06L422.00 855.42L423.56 855.77L425.12 856.12L426.67 856.46L428.22 856.79L429.77 857.12L431.32 857.45L432.88 857.76L434.43 858.08L435.98 858.39L437.53 858.69L439.08 858.99L440.63 859.29L442.21 859.58L443.78 859.87L445.35 860.16L446.92 860.45L448.50 860.73L450.07 861.01L451.64 861.29L453.35 861.59L455.06 861.88L456.76 862.18L458.47 862.47L460.18 862.76L461.92 863.05L463.67 863.35L465.41 863.64L467.16 863.93L469.12 864.26L471.09 864.59L473.05 864.92L474.76 865.21L476.46 865.50L478.16 865.79L479.67 866.05L481.17 866.30L482.67 866.56L484.69 866.91L486.70 867.27L488.26 867.55L489.82 867.83L491.38 868.11L492.94 868.39L494.50 868.68L496.06 868.96L497.62 869.24L499.18 869.53L500.74 869.81L502.30 870.08L503.86 870.35L505.42 870.62L506.98 870.89L508.54 871.14L510.10 871.40L511.66 871.64L513.22 871.88L514.78 872.10L516.33 872.32L517.88 872.54L519.43 872.74L520.98 872.94L522.53 873.14L524.08 873.34L525.64 873.53L527.19 873.71L528.74 873.90L530.31 874.09L531.88 874.28L533.46 874.47L535.03 874.65L536.60 874.83L538.17 875.02L539.75 875.19L541.46 875.39L543.16 875.57L544.87 875.76L546.58 875.94L548.29 876.12L550.03 876.30L551.77 876.48L553.52 876.66L555.26 876.84L557.23 877.03L559.19 877.22L561.16 877.41L562.86 877.57L564.57 877.73L566.27 877.89L567.77 878.02L569.27 878.16L570.78 878.29L572.79 878.47L574.81 878.65L576.36 878.78L577.91 878.91L579.46 879.04L581.01 879.17L582.57 879.30L584.12 879.43L585.67 879.56L587.22 879.69L588.77 879.81L590.32 879.94L591.90 880.06L593.47 880.19L595.04 880.31L596.61 880.43L598.19 880.55L599.76 880.67L601.33 880.79L603.04 880.91L604.75 881.04L606.45 881.16L608.16 881.28L609.87 881.40L611.61 881.52L613.36 881.64L615.10 881.76L616.85 881.87L618.81 882.00L620.78 882.12L622.74 882.24L624.45 882.35L626.15 882.45L627.85 882.55L629.36 882.63L630.86 882.72L632.36 882.80L634.38 882.91L636.39 883.01" fill="none" stroke="#008000" stroke-width="3.8" stroke-linejoin="round"/>
<g><rect x="188.86" y="693.62" width="14" height="14" fill="#008000"/><rect x="215.38" y="729.85" width="14" height="14" fill="#008000"/><rect x="241.90" y="757.77" width="14" height="14" fill="#008000"/><rect x="257.42" y="772.84" width="14" height="14" fill="#008000"/><rect x="268.43" y="781.90" width="14" height="14" fill="#008000"/><rect x="276.97" y="788.50" width="14" height="14" fill="#008000"/><rect x="283.94" y="793.57" width="14" height="14" fill="#008000"/><rect x="289.84" y="797.61" width="14" height="14" fill="#008000"/><rect x="294.95" y="800.90" width="14" height="14" fill="#008000"/><rect x="299.46" y="803.63" width="14" height="14" fill="#008000"/><rect x="303.49" y="805.94" width="14" height="14" fill="#008000"/><rect x="330.01" y="818.26" width="14" height="14" fill="#008000"/><rect x="345.53" y="823.36" width="14" height="14" fill="#008000"/><rect x="356.53" y="827.71" width="14" height="14" fill="#008000"/><rect x="365.07" y="831.43" width="14" height="14" fill="#008000"/><rect x="372.05" y="834.51" width="14" height="14" fill="#008000"/><rect x="377.95" y="837.02" width="14" height="14" fill="#008000"/><rect x="383.06" y="839.07" width="14" height="14" fill="#008000"/><rect x="387.56" y="840.74" width="14" height="14" fill="#008000"/><rect x="391.60" y="842.09" width="14" height="14" fill="#008000"/><rect x="418.12" y="849.12" width="14" height="14" fill="#008000"/><rect x="433.63" y="852.29" width="14" height="14" fill="#008000"/><rect x="444.64" y="854.29" width="14" height="14" fill="#008000"/><rect x="453.18" y="855.76" width="14" height="14" fill="#008000"/><rect x="460.16" y="856.93" width="14" height="14" fill="#008000"/><rect x="466.05" y="857.92" width="14" height="14" fill="#008000"/><rect x="471.16" y="858.79" width="14" height="14" fill="#008000"/><rect x="475.67" y="859.56" width="14" height="14" fill="#008000"/><rect x="479.70" y="860.27" width="14" height="14" fill="#008000"/><rect x="506.22" y="864.88" width="14" height="14" fill="#008000"/><rect x="521.74" y="866.90" width="14" height="14" fill="#008000"/><rect x="532.75" y="868.19" width="14" height="14" fill="#008000"/><rect x="541.29" y="869.12" width="14" height="14" fill="#008000"/><rect x="548.26" y="869.84" width="14" height="14" fill="#008000"/><rect x="554.16" y="870.41" width="14" height="14" fill="#008000"/><rect x="559.27" y="870.89" width="14" height="14" fill="#008000"/><rect x="563.78" y="871.29" width="14" height="14" fill="#008000"/><rect x="567.81" y="871.65" width="14" height="14" fill="#008000"/><rect x="583.32" y="872.94" width="14" height="14" fill="#008000"/><rect x="594.33" y="873.79" width="14" height="14" fill="#008000"/><rect x="602.87" y="874.40" width="14" height="14" fill="#008000"/><rect x="609.85" y="874.87" width="14" height="14" fill="#008000"/><rect x="615.74" y="875.24" width="14" height="14" fill="#008000"/><rect x="620.85" y="875.55" width="14" height="14" fill="#008000"/><rect x="625.36" y="875.80" width="14" height="14" fill="#008000"/><rect x="629.39" y="876.01" width="14" height="14" fill="#008000"/></g>
<path d="M195.86 550.60L197.42 553.59L198.98 556.59L200.54 559.59L202.10 562.59L203.66 565.60L205.22 568.62L206.78 571.65L208.34 574.69L209.90 577.74L211.46 580.81L213.02 583.90L214.58 587.01L216.14 590.14L217.70 593.29L219.26 596.46L220.82 599.66L222.38 602.89L223.94 606.14L225.50 609.42L227.06 612.72L228.62 616.02L230.18 619.33L231.74 622.64L233.30 625.94L234.86 629.22L236.42 632.49L237.98 635.72L239.54 638.92L241.10 642.08L242.66 645.20L244.22 648.26L245.78 651.26L247.34 654.20L248.90 657.06L250.46 659.83L252.01 662.54L253.56 665.19L255.11 667.80L256.66 670.38L258.21 672.95L259.76 675.50L261.32 678.06L262.87 680.63L264.42 683.24L265.99 685.91L267.56 688.61L269.14 691.30L270.71 693.98L272.28 696.61L273.85 699.19L275.43 701.68L277.13 704.29L278.84 706.79L280.55 709.23L282.26 711.61L283.97 713.95L285.71 716.34L287.45 718.70L289.20 721.04L290.94 723.34L292.91 725.89L294.87 728.39L296.84 730.85L298.54 732.95L300.25 735.01L301.95 737.05L303.45 738.82L304.95 740.56L306.46 742.29L308.47 744.57L310.49 746.80L312.05 748.48L313.61 750.12L315.17 751.72L316.73 753.29L318.29 754.83L319.85 756.35L321.41 757.84L322.97 759.32L324.53 760.78L326.09 762.24L327.65 763.69L329.21 765.14L330.77 766.60L332.33 768.06L333.89 769.53L335.45 771.02L337.01 772.53L338.56 774.05L340.11 775.58L341.67 777.12L343.22 778.64L344.77 780.16L346.32 781.64L347.87 783.09L349.42 784.50L350.97 785.85L352.53 787.13L354.10 788.35L355.67 789.51L357.24 790.61L358.82 791.67L360.39 792.68L361.96 793.67L363.53 794.63L365.24 795.67L366.95 796.70L368.66 797.71L370.36 798.71L372.07 799.69L373.82 800.66L375.56 801.62L377.30 802.57L379.05 803.50L381.01 804.54L382.98 805.58L384.95 806.61L386.65 807.50L388.35 808.39L390.06 809.29L391.56 810.08L393.06 810.87L394.56 811.68L396.58 812.77L398.60 813.87L400.16 814.72L401.72 815.57L403.28 816.42L404.84 817.27L406.40 818.12L407.96 818.97L409.52 819.81L411.08 820.65L412.64 821.48L414.20 822.31L415.76 823.13L417.32 823.95L418.88 824.76L420.44 825.57L422.00 826.36L423.56 827.15L425.12 827.93L426.67 828.69L428.22 829.44L429.77 830.19L431.32 830.92L432.88 831.64L434.43 832.35L435.98 833.05L437.53 833.74L439.08 834.41L440.63 835.07L442.21 835.72L443.78 836.36L445.35 837.00L446.92 837.62L448.50 838.23L450.07 838.84L451.64 839.45L453.35 840.10L455.06 840.75L456.76 841.39L458.47 842.03L460.18 842.66L461.92 843.30L463.67 843.92L465.41 844.54L467.16 845.15L469.12 845.82L471.09 846.49L473.05 847.14L474.76 847.69L476.46 848.24L478.16 848.78L479.67 849.24L481.17 849.70L482.67 850.15L484.69 850.74L486.70 851.31L488.26 851.74L489.82 852.15L491.38 852.56L492.94 852.96L494.50 853.35L496.06 853.73L497.62 854.10L499.18 854.47L500.74 854.83L502.30 855.19L503.86 855.54L505.42 855.90L506.98 856.25L508.54 856.61L510.10 856.96L511.66 857.32L513.22 857.68L514.78 858.04L516.33 858.40L517.88 858.77L519.43 859.14L520.98 859.52L522.53 859.89L524.08 860.27L525.64 860.65L527.19 861.03L528.74 861.42L530.31 861.81L531.88 862.19L533.46 862.58L535.03 862.97L536.60 863.36L538.17 863.74L539.75 864.13L541.46 864.54L543.16 864.94L544.87 865.35L546.58 865.74L548.29 866.14L550.03 866.53L551.77 866.92L553.52 867.29L555.26 867.66L557.23 868.07L559.19 868.46L561.16 868.84L562.86 869.15L564.57 869.45L566.27 869.75L567.77 869.99L569.27 870.23L570.78 870.45L572.79 870.74L574.81 871.00L576.36 871.18L577.91 871.35L579.46 871.51L581.01 871.67L582.57 871.81L584.12 871.95L585.67 872.09L587.22 872.23L588.77 872.36L590.32 872.51L591.90 872.66L593.47 872.81L595.04 872.97L596.61 873.13L598.19 873.29L599.76 873.46L601.33 873.62L603.04 873.80L604.75 873.97L606.45 874.15L608.16 874.33L609.87 874.50L611.61 874.68L613.36 874.86L615.10 875.05L616.85 875.23L618.81 875.44L620.78 875.65L622.74 875.86L624.45 876.04L626.15 876.22L627.85 876.40L629.36 876.57L630.86 876.73L632.36 876.89L634.38 877.11L636.39 877.33" fill="none" stroke="#808000" stroke-width="3.8" stroke-linejoin="round"/>
<g><path d="M195.86 540.90L205.56 550.60L195.86 560.30L186.16 550.60Z" fill="#808000"/><path d="M222.38 593.19L232.08 602.89L222.38 612.59L212.68 602.89Z" fill="#808000"/><path d="M248.90 647.36L258.60 657.06L248.90 666.76L239.20 657.06Z" fill="#808000"/><path d="M264.42 673.54L274.12 683.24L264.42 692.94L254.72 683.24Z" fill="#808000"/><path d="M275.43 691.98L285.13 701.68L275.43 711.38L265.73 701.68Z" fill="#808000"/><path d="M283.97 704.25L293.67 713.95L283.97 723.65L274.27 713.95Z" fill="#808000"/><path d="M290.94 713.64L300.64 723.34L290.94 733.04L281.24 723.34Z" fill="#808000"/><path d="M296.84 721.15L306.54 730.85L296.84 740.55L287.14 730.85Z" fill="#808000"/><path d="M301.95 727.35L311.65 737.05L301.95 746.75L292.25 737.05Z" fill="#808000"/><path d="M306.46 732.59L316.16 742.29L306.46 751.99L296.76 742.29Z" fill="#808000"/><path d="M310.49 737.10L320.19 746.80L310.49 756.50L300.79 746.80Z" fill="#808000"/><path d="M337.01 762.83L346.71 772.53L337.01 782.23L327.31 772.53Z" fill="#808000"/><path d="M352.53 777.43L362.23 787.13L352.53 796.83L342.83 787.13Z" fill="#808000"/><path d="M363.53 784.93L373.23 794.63L363.53 804.33L353.83 794.63Z" fill="#808000"/><path d="M372.07 789.99L381.77 799.69L372.07 809.39L362.37 799.69Z" fill="#808000"/><path d="M379.05 793.80L388.75 803.50L379.05 813.20L369.35 803.50Z" fill="#808000"/><path d="M384.95 796.91L394.65 806.61L384.95 816.31L375.25 806.61Z" fill="#808000"/><path d="M390.06 799.59L399.76 809.29L390.06 818.99L380.36 809.29Z" fill="#808000"/><path d="M394.56 801.98L404.26 811.68L394.56 821.38L384.86 811.68Z" fill="#808000"/><path d="M398.60 804.17L408.30 813.87L398.60 823.57L388.90 813.87Z" fill="#808000"/><path d="M425.12 818.23L434.82 827.93L425.12 837.63L415.42 827.93Z" fill="#808000"/><path d="M440.63 825.37L450.33 835.07L440.63 844.77L430.93 835.07Z" fill="#808000"/><path d="M451.64 829.75L461.34 839.45L451.64 849.15L441.94 839.45Z" fill="#808000"/><path d="M460.18 832.96L469.88 842.66L460.18 852.36L450.48 842.66Z" fill="#808000"/><path d="M467.16 835.45L476.86 845.15L467.16 854.85L457.46 845.15Z" fill="#808000"/><path d="M473.05 837.44L482.75 847.14L473.05 856.84L463.35 847.14Z" fill="#808000"/><path d="M478.16 839.08L487.86 848.78L478.16 858.48L468.46 848.78Z" fill="#808000"/><path d="M482.67 840.45L492.37 850.15L482.67 859.85L472.97 850.15Z" fill="#808000"/><path d="M486.70 841.61L496.40 851.31L486.70 861.01L477.00 851.31Z" fill="#808000"/><path d="M513.22 847.98L522.92 857.68L513.22 867.38L503.52 857.68Z" fill="#808000"/><path d="M528.74 851.72L538.44 861.42L528.74 871.12L519.04 861.42Z" fill="#808000"/><path d="M539.75 854.43L549.45 864.13L539.75 873.83L530.05 864.13Z" fill="#808000"/><path d="M548.29 856.44L557.99 866.14L548.29 875.84L538.59 866.14Z" fill="#808000"/><path d="M555.26 857.96L564.96 867.66L555.26 877.36L545.56 867.66Z" fill="#808000"/><path d="M561.16 859.14L570.86 868.84L561.16 878.54L551.46 868.84Z" fill="#808000"/><path d="M566.27 860.05L575.97 869.75L566.27 879.45L556.57 869.75Z" fill="#808000"/><path d="M570.78 860.75L580.48 870.45L570.78 880.15L561.08 870.45Z" fill="#808000"/><path d="M574.81 861.30L584.51 871.00L574.81 880.70L565.11 871.00Z" fill="#808000"/><path d="M590.32 862.81L600.02 872.51L590.32 882.21L580.62 872.51Z" fill="#808000"/><path d="M601.33 863.92L611.03 873.62L601.33 883.32L591.63 873.62Z" fill="#808000"/><path d="M609.87 864.80L619.57 874.50L609.87 884.20L600.17 874.50Z" fill="#808000"/><path d="M616.85 865.53L626.55 875.23L616.85 884.93L607.15 875.23Z" fill="#808000"/><path d="M622.74 866.16L632.44 875.86L622.74 885.56L613.04 875.86Z" fill="#808000"/><path d="M627.85 866.70L637.55 876.40L627.85 886.10L618.15 876.40Z" fill="#808000"/><path d="M632.36 867.19L642.06 876.89L632.36 886.59L622.66 876.89Z" fill="#808000"/><path d="M636.39 867.63L646.09 877.33L636.39 887.03L626.69 877.33Z" fill="#808000"/></g>
<line x1="128.90" y1="906.63" x2="135.90" y2="906.63" stroke="#000" stroke-width="2"/><line x1="128.90" y1="897.88" x2="135.90" y2="897.88" stroke="#000" stroke-width="2"/><line x1="128.90" y1="889.13" x2="138.10" y2="889.13" stroke="#000" stroke-width="2.4"/><line x1="128.90" y1="880.38" x2="135.90" y2="880.38" stroke="#000" stroke-width="2"/><line x1="128.90" y1="871.64" x2="135.90" y2="871.64" stroke="#000" stroke-width="2"/><line x1="128.90" y1="862.89" x2="135.90" y2="862.89" stroke="#000" stroke-width="2"/><line x1="128.90" y1="854.14" x2="135.90" y2="854.14" stroke="#000" stroke-width="2"/><line x1="128.90" y1="845.39" x2="138.10" y2="845.39" stroke="#000" stroke-width="2.4"/><line x1="128.90" y1="836.65" x2="135.90" y2="836.65" stroke="#000" stroke-width="2"/><line x1="128.90" y1="827.90" x2="135.90" y2="827.90" stroke="#000" stroke-width="2"/><line x1="128.90" y1="819.15" x2="135.90" y2="819.15" stroke="#000" stroke-width="2"/><line x1="128.90" y1="810.41" x2="135.90" y2="810.41" stroke="#000" stroke-width="2"/><line x1="128.90" y1="801.66" x2="138.10" y2="801.66" stroke="#000" stroke-width="2.4"/><line x1="128.90" y1="792.91" x2="135.90" y2="792.91" stroke="#000" stroke-width="2"/><line x1="128.90" y1="784.16" x2="135.90" y2="784.16" stroke="#000" stroke-width="2"/><line x1="128.90" y1="775.42" x2="135.90" y2="775.42" stroke="#000" stroke-width="2"/><line x1="128.90" y1="766.67" x2="135.90" y2="766.67" stroke="#000" stroke-width="2"/><line x1="128.90" y1="757.92" x2="138.10" y2="757.92" stroke="#000" stroke-width="2.4"/><line x1="128.90" y1="749.17" x2="135.90" y2="749.17" stroke="#000" stroke-width="2"/><line x1="128.90" y1="740.43" x2="135.90" y2="740.43" stroke="#000" stroke-width="2"/><line x1="128.90" y1="731.68" x2="135.90" y2="731.68" stroke="#000" stroke-width="2"/><line x1="128.90" y1="722.93" x2="135.90" y2="722.93" stroke="#000" stroke-width="2"/><line x1="128.90" y1="714.18" x2="138.10" y2="714.18" stroke="#000" stroke-width="2.4"/><line x1="128.90" y1="705.44" x2="135.90" y2="705.44" stroke="#000" stroke-width="2"/><line x1="128.90" y1="696.69" x2="135.90" y2="696.69" stroke="#000" stroke-width="2"/><line x1="128.90" y1="687.94" x2="135.90" y2="687.94" stroke="#000" stroke-width="2"/><line x1="128.90" y1="679.19" x2="135.90" y2="679.19" stroke="#000" stroke-width="2"/><line x1="128.90" y1="670.45" x2="138.10" y2="670.45" stroke="#000" stroke-width="2.4"/><line x1="128.90" y1="661.70" x2="135.90" y2="661.70" stroke="#000" stroke-width="2"/><line x1="128.90" y1="652.95" x2="135.90" y2="652.95" stroke="#000" stroke-width="2"/><line x1="128.90" y1="644.21" x2="135.90" y2="644.21" stroke="#000" stroke-width="2"/><line x1="128.90" y1="635.46" x2="135.90" y2="635.46" stroke="#000" stroke-width="2"/><line x1="128.90" y1="626.71" x2="138.10" y2="626.71" stroke="#000" stroke-width="2.4"/><line x1="128.90" y1="617.96" x2="135.90" y2="617.96" stroke="#000" stroke-width="2"/><line x1="128.90" y1="609.22" x2="135.90" y2="609.22" stroke="#000" stroke-width="2"/><line x1="128.90" y1="600.47" x2="135.90" y2="600.47" stroke="#000" stroke-width="2"/><line x1="128.90" y1="591.72" x2="135.90" y2="591.72" stroke="#000" stroke-width="2"/><line x1="128.90" y1="582.97" x2="138.10" y2="582.97" stroke="#000" stroke-width="2.4"/><line x1="128.90" y1="574.23" x2="135.90" y2="574.23" stroke="#000" stroke-width="2"/><line x1="128.90" y1="565.48" x2="135.90" y2="565.48" stroke="#000" stroke-width="2"/><line x1="128.90" y1="556.73" x2="135.90" y2="556.73" stroke="#000" stroke-width="2"/><line x1="128.90" y1="547.98" x2="135.90" y2="547.98" stroke="#000" stroke-width="2"/><line x1="128.90" y1="539.24" x2="138.10" y2="539.24" stroke="#000" stroke-width="2.4"/><line x1="128.90" y1="530.49" x2="135.90" y2="530.49" stroke="#000" stroke-width="2"/><line x1="128.90" y1="521.74" x2="135.90" y2="521.74" stroke="#000" stroke-width="2"/><line x1="128.90" y1="512.99" x2="135.90" y2="512.99" stroke="#000" stroke-width="2"/><line x1="128.90" y1="504.25" x2="135.90" y2="504.25" stroke="#000" stroke-width="2"/><line x1="128.90" y1="495.50" x2="138.10" y2="495.50" stroke="#000" stroke-width="2.4"/><line x1="128.90" y1="911.00" x2="128.90" y2="901.80" stroke="#000" stroke-width="2.4"/><line x1="144.21" y1="911.00" x2="144.21" y2="904.00" stroke="#000" stroke-width="2"/><line x1="159.51" y1="911.00" x2="159.51" y2="904.00" stroke="#000" stroke-width="2"/><line x1="174.82" y1="911.00" x2="174.82" y2="904.00" stroke="#000" stroke-width="2"/><line x1="190.12" y1="911.00" x2="190.12" y2="904.00" stroke="#000" stroke-width="2"/><line x1="205.43" y1="911.00" x2="205.43" y2="901.80" stroke="#000" stroke-width="2.4"/><line x1="220.73" y1="911.00" x2="220.73" y2="904.00" stroke="#000" stroke-width="2"/><line x1="236.04" y1="911.00" x2="236.04" y2="904.00" stroke="#000" stroke-width="2"/><line x1="251.35" y1="911.00" x2="251.35" y2="904.00" stroke="#000" stroke-width="2"/><line x1="266.65" y1="911.00" x2="266.65" y2="904.00" stroke="#000" stroke-width="2"/><line x1="281.96" y1="911.00" x2="281.96" y2="901.80" stroke="#000" stroke-width="2.4"/><line x1="297.26" y1="911.00" x2="297.26" y2="904.00" stroke="#000" stroke-width="2"/><line x1="312.57" y1="911.00" x2="312.57" y2="904.00" stroke="#000" stroke-width="2"/><line x1="327.87" y1="911.00" x2="327.87" y2="904.00" stroke="#000" stroke-width="2"/><line x1="343.18" y1="911.00" x2="343.18" y2="904.00" stroke="#000" stroke-width="2"/><line x1="358.49" y1="911.00" x2="358.49" y2="901.80" stroke="#000" stroke-width="2.4"/><line x1="373.79" y1="911.00" x2="373.79" y2="904.00" stroke="#000" stroke-width="2"/><line x1="389.10" y1="911.00" x2="389.10" y2="904.00" stroke="#000" stroke-width="2"/><line x1="404.40" y1="911.00" x2="404.40" y2="904.00" stroke="#000" stroke-width="2"/><line x1="419.71" y1="911.00" x2="419.71" y2="904.00" stroke="#000" stroke-width="2"/><line x1="435.01" y1="911.00" x2="435.01" y2="901.80" stroke="#000" stroke-width="2.4"/><line x1="450.32" y1="911.00" x2="450.32" y2="904.00" stroke="#000" stroke-width="2"/><line x1="465.63" y1="911.00" x2="465.63" y2="904.00" stroke="#000" stroke-width="2"/><line x1="480.93" y1="911.00" x2="480.93" y2="904.00" stroke="#000" stroke-width="2"/><line x1="496.24" y1="911.00" x2="496.24" y2="904.00" stroke="#000" stroke-width="2"/><line x1="511.54" y1="911.00" x2="511.54" y2="901.80" stroke="#000" stroke-width="2.4"/><line x1="526.85" y1="911.00" x2="526.85" y2="904.00" stroke="#000" stroke-width="2"/><line x1="542.15" y1="911.00" x2="542.15" y2="904.00" stroke="#000" stroke-width="2"/><line x1="557.46" y1="911.00" x2="557.46" y2="904.00" stroke="#000" stroke-width="2"/><line x1="572.77" y1="911.00" x2="572.77" y2="904.00" stroke="#000" stroke-width="2"/><line x1="588.07" y1="911.00" x2="588.07" y2="901.80" stroke="#000" stroke-width="2.4"/><line x1="603.38" y1="911.00" x2="603.38" y2="904.00" stroke="#000" stroke-width="2"/><line x1="618.68" y1="911.00" x2="618.68" y2="904.00" stroke="#000" stroke-width="2"/><line x1="633.99" y1="911.00" x2="633.99" y2="904.00" stroke="#000" stroke-width="2"/><line x1="649.29" y1="911.00" x2="649.29" y2="904.00" stroke="#000" stroke-width="2"/><line x1="664.60" y1="911.00" x2="664.60" y2="901.80" stroke="#000" stroke-width="2.4"/>
<rect x="128.90" y="495.50" width="535.70" height="415.50" fill="none" stroke="#000" stroke-width="4.3"/>
<text x="116" y="897.73" text-anchor="end" font-family="Liberation Sans, sans-serif" font-weight="bold" font-size="25.5">0</text><text x="116" y="853.99" text-anchor="end" font-family="Liberation Sans, sans-serif" font-weight="bold" font-size="25.5">20</text><text x="116" y="810.26" text-anchor="end" font-family="Liberation Sans, sans-serif" font-weight="bold" font-size="25.5">40</text><text x="116" y="766.52" text-anchor="end" font-family="Liberation Sans, sans-serif" font-weight="bold" font-size="25.5">60</text><text x="116" y="722.78" text-anchor="end" font-family="Liberation Sans, sans-serif" font-weight="bold" font-size="25.5">80</text><text x="116" y="679.05" text-anchor="end" font-family="Liberation Sans, sans-serif" font-weight="bold" font-size="25.5">100</text><text x="116" y="635.31" text-anchor="end" font-family="Liberation Sans, sans-serif" font-weight="bold" font-size="25.5">120</text><text x="116" y="591.57" text-anchor="end" font-family="Liberation Sans, sans-serif" font-weight="bold" font-size="25.5">140</text><text x="116" y="547.84" text-anchor="end" font-family="Liberation Sans, sans-serif" font-weight="bold" font-size="25.5">160</text><text x="116" y="504.10" text-anchor="end" font-family="Liberation Sans, sans-serif" font-weight="bold" font-size="25.5">180</text><text x="128.90" y="952.10" text-anchor="middle" font-family="Liberation Sans, sans-serif" font-weight="bold" font-size="29">4</text><text x="205.43" y="952.10" text-anchor="middle" font-family="Liberation Sans, sans-serif" font-weight="bold" font-size="29">6</text><text x="281.96" y="952.10" text-anchor="middle" font-family="Liberation Sans, sans-serif" font-weight="bold" font-size="29">8</text><text x="358.49" y="952.10" text-anchor="middle" font-family="Liberation Sans, sans-serif" font-weight="bold" font-size="29">10</text><text x="435.01" y="952.10" text-anchor="middle" font-family="Liberation Sans, sans-serif" font-weight="bold" font-size="29">12</text><text x="511.54" y="952.10" text-anchor="middle" font-family="Liberation Sans, sans-serif" font-weight="bold" font-size="29">14</text><text x="588.07" y="952.10" text-anchor="middle" font-family="Liberation Sans, sans-serif" font-weight="bold" font-size="29">16</text><text x="664.60" y="952.10" text-anchor="middle" font-family="Liberation Sans, sans-serif" font-weight="bold" font-size="29">18</text>
<text x="346.9" y="560.30" text-anchor="middle" font-family="Liberation Sans, sans-serif" font-weight="bold" font-size="43">(B)</text>
<text transform="translate(35.0 703.75) rotate(-90)" text-anchor="middle" font-family="Liberation Serif, serif" font-weight="bold" font-size="38">Dielectric loss <tspan font-size="34">ε</tspan><tspan font-weight="normal" font-size="25" dx="1.5" dy="13">2</tspan></text>
<path d="M195.86 1036.15L197.42 1042.19L198.98 1048.23L200.54 1054.23L202.10 1060.19L203.66 1066.10L205.22 1071.93L206.78 1077.68L208.34 1083.33L209.90 1088.86L211.46 1094.27L213.02 1099.53L214.58 1104.64L216.14 1109.57L217.70 1114.32L219.26 1118.87L220.82 1123.21L222.38 1127.32L223.94 1131.19L225.50 1134.84L227.06 1138.28L228.62 1141.53L230.18 1144.60L231.74 1147.53L233.30 1150.31L234.86 1152.98L236.42 1155.55L237.98 1158.03L239.54 1160.45L241.10 1162.82L242.66 1165.16L244.22 1167.48L245.78 1169.81L247.34 1172.16L248.90 1174.55L250.46 1176.98L252.01 1179.45L253.56 1181.96L255.11 1184.48L256.66 1187.01L258.21 1189.54L259.76 1192.05L261.32 1194.52L262.87 1196.96L264.42 1199.34L265.99 1201.68L267.56 1203.96L269.14 1206.17L270.71 1208.33L272.28 1210.42L273.85 1212.45L275.43 1214.44L277.13 1216.53L278.84 1218.58L280.55 1220.57L282.26 1222.53L283.97 1224.45L285.71 1226.38L287.45 1228.28L289.20 1230.17L290.94 1232.02L292.91 1234.09L294.87 1236.14L296.84 1238.17L298.54 1239.93L300.25 1241.67L301.95 1243.42L303.45 1244.96L304.95 1246.50L306.46 1248.05L308.47 1250.13L310.49 1252.24L312.05 1253.89L313.61 1255.55L315.17 1257.22L316.73 1258.90L318.29 1260.58L319.85 1262.26L321.41 1263.93L322.97 1265.60L324.53 1267.25L326.09 1268.88L327.65 1270.49L329.21 1272.08L330.77 1273.63L332.33 1275.15L333.89 1276.64L335.45 1278.08L337.01 1279.48L338.56 1280.82L340.11 1282.11L341.67 1283.37L343.22 1284.58L344.77 1285.75L346.32 1286.89L347.87 1288.00L349.42 1289.08L350.97 1290.13L352.53 1291.16L354.10 1292.18L355.67 1293.18L357.24 1294.16L358.82 1295.12L360.39 1296.07L361.96 1297.00L363.53 1297.92L365.24 1298.90L366.95 1299.87L368.66 1300.83L370.36 1301.78L372.07 1302.71L373.82 1303.66L375.56 1304.59L377.30 1305.51L379.05 1306.43L381.01 1307.45L382.98 1308.46L384.95 1309.47L386.65 1310.34L388.35 1311.20L390.06 1312.06L391.56 1312.82L393.06 1313.58L394.56 1314.34L396.58 1315.37L398.60 1316.39L400.16 1317.18L401.72 1317.98L403.28 1318.77L404.84 1319.56L406.40 1320.34L407.96 1321.13L409.52 1321.90L411.08 1322.67L412.64 1323.44L414.20 1324.19L415.76 1324.94L417.32 1325.67L418.88 1326.39L420.44 1327.10L422.00 1327.79L423.56 1328.47L425.12 1329.13L426.67 1329.77L428.22 1330.40L429.77 1331.00L431.32 1331.59L432.88 1332.17L434.43 1332.73L435.98 1333.28L437.53 1333.81L439.08 1334.33L440.63 1334.84L442.21 1335.34L443.78 1335.83L445.35 1336.31L446.92 1336.78L448.50 1337.25L450.07 1337.71L451.64 1338.16L453.35 1338.65L455.06 1339.13L456.76 1339.61L458.47 1340.09L460.18 1340.55L461.92 1341.02L463.67 1341.48L465.41 1341.93L467.16 1342.38L469.12 1342.87L471.09 1343.35L473.05 1343.82L474.76 1344.21L476.46 1344.60L478.16 1344.98L479.67 1345.31L481.17 1345.64L482.67 1345.95L484.69 1346.36L486.70 1346.76L488.26 1347.06L489.82 1347.34L491.38 1347.62L492.94 1347.89L494.50 1348.15L496.06 1348.40L497.62 1348.65L499.18 1348.90L500.74 1349.14L502.30 1349.38L503.86 1349.61L505.42 1349.85L506.98 1350.09L508.54 1350.32L510.10 1350.56L511.66 1350.80L513.22 1351.05L514.78 1351.30L516.33 1351.55L517.88 1351.81L519.43 1352.07L520.98 1352.33L522.53 1352.59L524.08 1352.86L525.64 1353.13L527.19 1353.40L528.74 1353.67L530.31 1353.95L531.88 1354.23L533.46 1354.50L535.03 1354.78L536.60 1355.05L538.17 1355.33L539.75 1355.60L541.46 1355.90L543.16 1356.19L544.87 1356.48L546.58 1356.77L548.29 1357.06L550.03 1357.35L551.77 1357.63L553.52 1357.91L555.26 1358.19L557.23 1358.49L559.19 1358.79L561.16 1359.08L562.86 1359.33L564.57 1359.57L566.27 1359.80L567.77 1360.00L569.27 1360.19L570.78 1360.37L572.79 1360.61L574.81 1360.84L576.36 1361.01L577.91 1361.18L579.46 1361.35L581.01 1361.52L582.57 1361.68L584.12 1361.85L585.67 1362.01L587.22 1362.17L588.77 1362.33L590.32 1362.48L591.90 1362.64L593.47 1362.79L595.04 1362.95L596.61 1363.10L598.19 1363.25L599.76 1363.39L601.33 1363.54L603.04 1363.69L604.75 1363.85L606.45 1363.99L608.16 1364.14L609.87 1364.28L611.61 1364.42L613.36 1364.56L615.10 1364.70L616.85 1364.83L618.81 1364.97L620.78 1365.11L622.74 1365.24L624.45 1365.36L626.15 1365.46L627.85 1365.57L629.36 1365.66L630.86 1365.74L632.36 1365.82L634.38 1365.92L636.39 1366.02" fill="none" stroke="#000000" stroke-width="4.3" stroke-linejoin="round"/>
<g><circle cx="195.86" cy="1036.15" r="8" fill="#000000"/><circle cx="222.38" cy="1127.32" r="8" fill="#000000"/><circle cx="248.90" cy="1174.55" r="8" fill="#000000"/><circle cx="264.42" cy="1199.34" r="8" fill="#000000"/><circle cx="275.43" cy="1214.44" r="8" fill="#000000"/><circle cx="283.97" cy="1224.45" r="8" fill="#000000"/><circle cx="290.94" cy="1232.02" r="8" fill="#000000"/><circle cx="296.84" cy="1238.17" r="8" fill="#000000"/><circle cx="301.95" cy="1243.42" r="8" fill="#000000"/><circle cx="306.46" cy="1248.05" r="8" fill="#000000"/><circle cx="310.49" cy="1252.24" r="8" fill="#000000"/><circle cx="337.01" cy="1279.48" r="8" fill="#000000"/><circle cx="352.53" cy="1291.16" r="8" fill="#000000"/><circle cx="363.53" cy="1297.92" r="8" fill="#000000"/><circle cx="372.07" cy="1302.71" r="8" fill="#000000"/><circle cx="379.05" cy="1306.43" r="8" fill="#000000"/><circle cx="384.95" cy="1309.47" r="8" fill="#000000"/><circle cx="390.06" cy="1312.06" r="8" fill="#000000"/><circle cx="394.56" cy="1314.34" r="8" fill="#000000"/><circle cx="398.60" cy="1316.39" r="8" fill="#000000"/><circle cx="425.12" cy="1329.13" r="8" fill="#000000"/><circle cx="440.63" cy="1334.84" r="8" fill="#000000"/><circle cx="451.64" cy="1338.16" r="8" fill="#000000"/><circle cx="460.18" cy="1340.55" r="8" fill="#000000"/><circle cx="467.16" cy="1342.38" r="8" fill="#000000"/><circle cx="473.05" cy="1343.82" r="8" fill="#000000"/><circle cx="478.16" cy="1344.98" r="8" fill="#000000"/><circle cx="482.67" cy="1345.95" r="8" fill="#000000"/><circle cx="486.70" cy="1346.76" r="8" fill="#000000"/><circle cx="513.22" cy="1351.05" r="8" fill="#000000"/><circle cx="528.74" cy="1353.67" r="8" fill="#000000"/><circle cx="539.75" cy="1355.60" r="8" fill="#000000"/><circle cx="548.29" cy="1357.06" r="8" fill="#000000"/><circle cx="555.26" cy="1358.19" r="8" fill="#000000"/><circle cx="561.16" cy="1359.08" r="8" fill="#000000"/><circle cx="566.27" cy="1359.80" r="8" fill="#000000"/><circle cx="570.78" cy="1360.37" r="8" fill="#000000"/><circle cx="574.81" cy="1360.84" r="8" fill="#000000"/><circle cx="590.32" cy="1362.48" r="8" fill="#000000"/><circle cx="601.33" cy="1363.54" r="8" fill="#000000"/><circle cx="609.87" cy="1364.28" r="8" fill="#000000"/><circle cx="616.85" cy="1364.83" r="8" fill="#000000"/><circle cx="622.74" cy="1365.24" r="8" fill="#000000"/><circle cx="627.85" cy="1365.57" r="8" fill="#000000"/><circle cx="632.36" cy="1365.82" r="8" fill="#000000"/><circle cx="636.39" cy="1366.02" r="8" fill="#000000"/></g>
<path d="M195.86 1318.15L197.42 1319.01L198.98 1319.86L200.54 1320.71L202.10 1321.56L203.66 1322.39L205.22 1323.22L206.78 1324.04L208.34 1324.84L209.90 1325.62L211.46 1326.39L213.02 1327.14L214.58 1327.87L216.14 1328.57L217.70 1329.25L219.26 1329.90L220.82 1330.52L222.38 1331.11L223.94 1331.67L225.50 1332.19L227.06 1332.69L228.62 1333.16L230.18 1333.61L231.74 1334.03L233.30 1334.44L234.86 1334.83L236.42 1335.20L237.98 1335.57L239.54 1335.92L241.10 1336.26L242.66 1336.60L244.22 1336.94L245.78 1337.28L247.34 1337.61L248.90 1337.96L250.46 1338.30L252.01 1338.66L253.56 1339.01L255.11 1339.37L256.66 1339.73L258.21 1340.10L259.76 1340.46L261.32 1340.83L262.87 1341.19L264.42 1341.56L265.99 1341.92L267.56 1342.28L269.14 1342.64L270.71 1343.00L272.28 1343.35L273.85 1343.70L275.43 1344.04L277.13 1344.42L278.84 1344.79L280.55 1345.15L282.26 1345.51L283.97 1345.87L285.71 1346.22L287.45 1346.57L289.20 1346.92L290.94 1347.25L292.91 1347.62L294.87 1347.98L296.84 1348.33L298.54 1348.63L300.25 1348.91L301.95 1349.19L303.45 1349.43L304.95 1349.65L306.46 1349.87L308.47 1350.16L310.49 1350.43L312.05 1350.62L313.61 1350.80L315.17 1350.98L316.73 1351.14L318.29 1351.30L319.85 1351.45L321.41 1351.60L322.97 1351.75L324.53 1351.89L326.09 1352.03L327.65 1352.17L329.21 1352.32L330.77 1352.46L332.33 1352.61L333.89 1352.77L335.45 1352.93L337.01 1353.09L338.56 1353.27L340.11 1353.45L341.67 1353.64L343.22 1353.84L344.77 1354.04L346.32 1354.24L347.87 1354.45L349.42 1354.66L350.97 1354.87L352.53 1355.08L354.10 1355.30L355.67 1355.51L357.24 1355.73L358.82 1355.94L360.39 1356.16L361.96 1356.39L363.53 1356.61L365.24 1356.86L366.95 1357.11L368.66 1357.36L370.36 1357.61L372.07 1357.86L373.82 1358.12L375.56 1358.37L377.30 1358.62L379.05 1358.86L381.01 1359.13L382.98 1359.39L384.95 1359.64L386.65 1359.85L388.35 1360.05L390.06 1360.25L391.56 1360.41L393.06 1360.56L394.56 1360.71L396.58 1360.89L398.60 1361.05L400.16 1361.17L401.72 1361.29L403.28 1361.40L404.84 1361.51L406.40 1361.61L407.96 1361.71L409.52 1361.81L411.08 1361.90L412.64 1361.98L414.20 1362.07L415.76 1362.15L417.32 1362.22L418.88 1362.30L420.44 1362.37L422.00 1362.43L423.56 1362.50L425.12 1362.56L426.67 1362.62L428.22 1362.67L429.77 1362.73L431.32 1362.78L432.88 1362.84L434.43 1362.89L435.98 1362.95L437.53 1363.01L439.08 1363.07L440.63 1363.13L442.21 1363.20L443.78 1363.27L445.35 1363.34L446.92 1363.41L448.50 1363.49L450.07 1363.57L451.64 1363.66L453.35 1363.75L455.06 1363.84L456.76 1363.94L458.47 1364.03L460.18 1364.13L461.92 1364.23L463.67 1364.33L465.41 1364.43L467.16 1364.53L469.12 1364.63L471.09 1364.74L473.05 1364.84L474.76 1364.93L476.46 1365.01L478.16 1365.10L479.67 1365.16L481.17 1365.23L482.67 1365.29L484.69 1365.37L486.70 1365.44L488.26 1365.49L489.82 1365.54L491.38 1365.59L492.94 1365.63L494.50 1365.67L496.06 1365.71L497.62 1365.75L499.18 1365.79L500.74 1365.82L502.30 1365.86L503.86 1365.90L505.42 1365.93L506.98 1365.97L508.54 1366.01L510.10 1366.05L511.66 1366.09L513.22 1366.14L514.78 1366.18L516.33 1366.23L517.88 1366.28L519.43 1366.34L520.98 1366.39L522.53 1366.45L524.08 1366.50L525.64 1366.56L527.19 1366.62L528.74 1366.68L530.31 1366.74L531.88 1366.81L533.46 1366.87L535.03 1366.93L536.60 1367.00L538.17 1367.06L539.75 1367.13L541.46 1367.20L543.16 1367.27L544.87 1367.34L546.58 1367.41L548.29 1367.49L550.03 1367.56L551.77 1367.63L553.52 1367.71L555.26 1367.78L557.23 1367.86L559.19 1367.95L561.16 1368.03L562.86 1368.10L564.57 1368.17L566.27 1368.23L567.77 1368.29L569.27 1368.35L570.78 1368.41L572.79 1368.48L574.81 1368.56L576.36 1368.62L577.91 1368.67L579.46 1368.73L581.01 1368.78L582.57 1368.84L584.12 1368.89L585.67 1368.95L587.22 1369.00L588.77 1369.06L590.32 1369.11L591.90 1369.17L593.47 1369.22L595.04 1369.28L596.61 1369.33L598.19 1369.38L599.76 1369.44L601.33 1369.49L603.04 1369.55L604.75 1369.61L606.45 1369.67L608.16 1369.72L609.87 1369.78L611.61 1369.84L613.36 1369.90L615.10 1369.95L616.85 1370.01L618.81 1370.08L620.78 1370.14L622.74 1370.20L624.45 1370.26L626.15 1370.31L627.85 1370.37L629.36 1370.41L630.86 1370.46L632.36 1370.51L634.38 1370.57L636.39 1370.63" fill="none" stroke="#ff0000" stroke-width="4.3" stroke-linejoin="round"/>
<g><path d="M187.86 1313.15H203.86L195.86 1328.15Z" fill="#ff0000"/><path d="M214.38 1326.11H230.38L222.38 1341.11Z" fill="#ff0000"/><path d="M240.90 1332.96H256.90L248.90 1347.96Z" fill="#ff0000"/><path d="M256.42 1336.56H272.42L264.42 1351.56Z" fill="#ff0000"/><path d="M267.43 1339.04H283.43L275.43 1354.04Z" fill="#ff0000"/><path d="M275.97 1340.87H291.97L283.97 1355.87Z" fill="#ff0000"/><path d="M282.94 1342.25H298.94L290.94 1357.25Z" fill="#ff0000"/><path d="M288.84 1343.33H304.84L296.84 1358.33Z" fill="#ff0000"/><path d="M293.95 1344.19H309.95L301.95 1359.19Z" fill="#ff0000"/><path d="M298.46 1344.87H314.46L306.46 1359.87Z" fill="#ff0000"/><path d="M302.49 1345.43H318.49L310.49 1360.43Z" fill="#ff0000"/><path d="M329.01 1348.09H345.01L337.01 1363.09Z" fill="#ff0000"/><path d="M344.53 1350.08H360.53L352.53 1365.08Z" fill="#ff0000"/><path d="M355.53 1351.61H371.53L363.53 1366.61Z" fill="#ff0000"/><path d="M364.07 1352.86H380.07L372.07 1367.86Z" fill="#ff0000"/><path d="M371.05 1353.86H387.05L379.05 1368.86Z" fill="#ff0000"/><path d="M376.95 1354.64H392.95L384.95 1369.64Z" fill="#ff0000"/><path d="M382.06 1355.25H398.06L390.06 1370.25Z" fill="#ff0000"/><path d="M386.56 1355.71H402.56L394.56 1370.71Z" fill="#ff0000"/><path d="M390.60 1356.05H406.60L398.60 1371.05Z" fill="#ff0000"/><path d="M417.12 1357.56H433.12L425.12 1372.56Z" fill="#ff0000"/><path d="M432.63 1358.13H448.63L440.63 1373.13Z" fill="#ff0000"/><path d="M443.64 1358.66H459.64L451.64 1373.66Z" fill="#ff0000"/><path d="M452.18 1359.13H468.18L460.18 1374.13Z" fill="#ff0000"/><path d="M459.16 1359.53H475.16L467.16 1374.53Z" fill="#ff0000"/><path d="M465.05 1359.84H481.05L473.05 1374.84Z" fill="#ff0000"/><path d="M470.16 1360.10H486.16L478.16 1375.10Z" fill="#ff0000"/><path d="M474.67 1360.29H490.67L482.67 1375.29Z" fill="#ff0000"/><path d="M478.70 1360.44H494.70L486.70 1375.44Z" fill="#ff0000"/><path d="M505.22 1361.14H521.22L513.22 1376.14Z" fill="#ff0000"/><path d="M520.74 1361.68H536.74L528.74 1376.68Z" fill="#ff0000"/><path d="M531.75 1362.13H547.75L539.75 1377.13Z" fill="#ff0000"/><path d="M540.29 1362.49H556.29L548.29 1377.49Z" fill="#ff0000"/><path d="M547.26 1362.78H563.26L555.26 1377.78Z" fill="#ff0000"/><path d="M553.16 1363.03H569.16L561.16 1378.03Z" fill="#ff0000"/><path d="M558.27 1363.23H574.27L566.27 1378.23Z" fill="#ff0000"/><path d="M562.78 1363.41H578.78L570.78 1378.41Z" fill="#ff0000"/><path d="M566.81 1363.56H582.81L574.81 1378.56Z" fill="#ff0000"/><path d="M582.32 1364.11H598.32L590.32 1379.11Z" fill="#ff0000"/><path d="M593.33 1364.49H609.33L601.33 1379.49Z" fill="#ff0000"/><path d="M601.87 1364.78H617.87L609.87 1379.78Z" fill="#ff0000"/><path d="M608.85 1365.01H624.85L616.85 1380.01Z" fill="#ff0000"/><path d="M614.74 1365.20H630.74L622.74 1380.20Z" fill="#ff0000"/><path d="M619.85 1365.37H635.85L627.85 1380.37Z" fill="#ff0000"/><path d="M624.36 1365.51H640.36L632.36 1380.51Z" fill="#ff0000"/><path d="M628.39 1365.63H644.39L636.39 1380.63Z" fill="#ff0000"/></g>
<path d="M195.86 1240.88L197.42 1242.22L198.98 1243.55L200.54 1244.89L202.10 1246.22L203.66 1247.55L205.22 1248.88L206.78 1250.20L208.34 1251.52L209.90 1252.83L211.46 1254.13L213.02 1255.43L214.58 1256.72L216.14 1258.00L217.70 1259.26L219.26 1260.52L220.82 1261.76L222.38 1263.00L223.94 1264.22L225.50 1265.42L227.06 1266.61L228.62 1267.79L230.18 1268.95L231.74 1270.10L233.30 1271.23L234.86 1272.35L236.42 1273.45L237.98 1274.53L239.54 1275.60L241.10 1276.65L242.66 1277.68L244.22 1278.69L245.78 1279.69L247.34 1280.66L248.90 1281.62L250.46 1282.55L252.01 1283.46L253.56 1284.36L255.11 1285.25L256.66 1286.13L258.21 1287.01L259.76 1287.88L261.32 1288.75L262.87 1289.63L264.42 1290.51L265.99 1291.41L267.56 1292.32L269.14 1293.23L270.71 1294.15L272.28 1295.07L273.85 1296.00L275.43 1296.93L277.13 1297.94L278.84 1298.95L280.55 1299.96L282.26 1300.97L283.97 1301.98L285.71 1303.01L287.45 1304.04L289.20 1305.05L290.94 1306.07L292.91 1307.20L294.87 1308.32L296.84 1309.43L298.54 1310.39L300.25 1311.33L301.95 1312.25L303.45 1313.06L304.95 1313.86L306.46 1314.64L308.47 1315.67L310.49 1316.69L312.05 1317.46L313.61 1318.23L315.17 1318.99L316.73 1319.74L318.29 1320.48L319.85 1321.21L321.41 1321.93L322.97 1322.65L324.53 1323.35L326.09 1324.04L327.65 1324.71L329.21 1325.38L330.77 1326.04L332.33 1326.68L333.89 1327.30L335.45 1327.92L337.01 1328.52L338.56 1329.10L340.11 1329.67L341.67 1330.22L343.22 1330.77L344.77 1331.30L346.32 1331.83L347.87 1332.35L349.42 1332.86L350.97 1333.36L352.53 1333.87L354.10 1334.37L355.67 1334.87L357.24 1335.37L358.82 1335.87L360.39 1336.36L361.96 1336.84L363.53 1337.32L365.24 1337.83L366.95 1338.33L368.66 1338.83L370.36 1339.32L372.07 1339.81L373.82 1340.30L375.56 1340.78L377.30 1341.26L379.05 1341.73L381.01 1342.26L382.98 1342.77L384.95 1343.28L386.65 1343.72L388.35 1344.15L390.06 1344.57L391.56 1344.94L393.06 1345.31L394.56 1345.67L396.58 1346.15L398.60 1346.62L400.16 1346.98L401.72 1347.34L403.28 1347.68L404.84 1348.02L406.40 1348.36L407.96 1348.68L409.52 1349.01L411.08 1349.32L412.64 1349.64L414.20 1349.94L415.76 1350.24L417.32 1350.54L418.88 1350.83L420.44 1351.12L422.00 1351.40L423.56 1351.68L425.12 1351.95L426.67 1352.22L428.22 1352.49L429.77 1352.75L431.32 1353.01L432.88 1353.26L434.43 1353.51L435.98 1353.76L437.53 1354.01L439.08 1354.25L440.63 1354.49L442.21 1354.74L443.78 1354.98L445.35 1355.22L446.92 1355.46L448.50 1355.69L450.07 1355.93L451.64 1356.16L453.35 1356.41L455.06 1356.65L456.76 1356.90L458.47 1357.14L460.18 1357.38L461.92 1357.62L463.67 1357.86L465.41 1358.10L467.16 1358.33L469.12 1358.59L471.09 1358.85L473.05 1359.11L474.76 1359.33L476.46 1359.55L478.16 1359.77L479.67 1359.96L481.17 1360.15L482.67 1360.33L484.69 1360.58L486.70 1360.83L488.26 1361.02L489.82 1361.21L491.38 1361.40L492.94 1361.59L494.50 1361.77L496.06 1361.96L497.62 1362.14L499.18 1362.32L500.74 1362.49L502.30 1362.66L503.86 1362.83L505.42 1362.99L506.98 1363.15L508.54 1363.30L510.10 1363.45L511.66 1363.59L513.22 1363.72L514.78 1363.85L516.33 1363.97L517.88 1364.08L519.43 1364.20L520.98 1364.30L522.53 1364.41L524.08 1364.51L525.64 1364.62L527.19 1364.72L528.74 1364.82L530.31 1364.93L531.88 1365.04L533.46 1365.14L535.03 1365.25L536.60 1365.36L538.17 1365.47L539.75 1365.58L541.46 1365.69L543.16 1365.81L544.87 1365.92L546.58 1366.03L548.29 1366.14L550.03 1366.25L551.77 1366.36L553.52 1366.47L555.26 1366.58L557.23 1366.70L559.19 1366.82L561.16 1366.94L562.86 1367.04L564.57 1367.14L566.27 1367.24L567.77 1367.32L569.27 1367.41L570.78 1367.49L572.79 1367.60L574.81 1367.70L576.36 1367.78L577.91 1367.86L579.46 1367.94L581.01 1368.02L582.57 1368.09L584.12 1368.16L585.67 1368.24L587.22 1368.30L588.77 1368.37L590.32 1368.44L591.90 1368.50L593.47 1368.57L595.04 1368.63L596.61 1368.69L598.19 1368.75L599.76 1368.80L601.33 1368.86L603.04 1368.91L604.75 1368.97L606.45 1369.02L608.16 1369.07L609.87 1369.11L611.61 1369.16L613.36 1369.20L615.10 1369.24L616.85 1369.28L618.81 1369.31L620.78 1369.35L622.74 1369.38L624.45 1369.40L626.15 1369.42L627.85 1369.44L629.36 1369.45L630.86 1369.46L632.36 1369.47L634.38 1369.47L636.39 1369.48" fill="none" stroke="#0000ff" stroke-width="4.3" stroke-linejoin="round"/>
<g><path d="M187.86 1245.68H203.86L195.86 1231.28Z" fill="#0000ff"/><path d="M214.38 1267.80H230.38L222.38 1253.40Z" fill="#0000ff"/><path d="M240.90 1286.42H256.90L248.90 1272.02Z" fill="#0000ff"/><path d="M256.42 1295.31H272.42L264.42 1280.91Z" fill="#0000ff"/><path d="M267.43 1301.73H283.43L275.43 1287.33Z" fill="#0000ff"/><path d="M275.97 1306.78H291.97L283.97 1292.38Z" fill="#0000ff"/><path d="M282.94 1310.87H298.94L290.94 1296.47Z" fill="#0000ff"/><path d="M288.84 1314.23H304.84L296.84 1299.83Z" fill="#0000ff"/><path d="M293.95 1317.05H309.95L301.95 1302.65Z" fill="#0000ff"/><path d="M298.46 1319.44H314.46L306.46 1305.04Z" fill="#0000ff"/><path d="M302.49 1321.49H318.49L310.49 1307.09Z" fill="#0000ff"/><path d="M329.01 1333.32H345.01L337.01 1318.92Z" fill="#0000ff"/><path d="M344.53 1338.67H360.53L352.53 1324.27Z" fill="#0000ff"/><path d="M355.53 1342.12H371.53L363.53 1327.72Z" fill="#0000ff"/><path d="M364.07 1344.61H380.07L372.07 1330.21Z" fill="#0000ff"/><path d="M371.05 1346.53H387.05L379.05 1332.13Z" fill="#0000ff"/><path d="M376.95 1348.08H392.95L384.95 1333.68Z" fill="#0000ff"/><path d="M382.06 1349.37H398.06L390.06 1334.97Z" fill="#0000ff"/><path d="M386.56 1350.47H402.56L394.56 1336.07Z" fill="#0000ff"/><path d="M390.60 1351.42H406.60L398.60 1337.02Z" fill="#0000ff"/><path d="M417.12 1356.75H433.12L425.12 1342.35Z" fill="#0000ff"/><path d="M432.63 1359.29H448.63L440.63 1344.89Z" fill="#0000ff"/><path d="M443.64 1360.96H459.64L451.64 1346.56Z" fill="#0000ff"/><path d="M452.18 1362.18H468.18L460.18 1347.78Z" fill="#0000ff"/><path d="M459.16 1363.13H475.16L467.16 1348.73Z" fill="#0000ff"/><path d="M465.05 1363.91H481.05L473.05 1349.51Z" fill="#0000ff"/><path d="M470.16 1364.57H486.16L478.16 1350.17Z" fill="#0000ff"/><path d="M474.67 1365.13H490.67L482.67 1350.73Z" fill="#0000ff"/><path d="M478.70 1365.63H494.70L486.70 1351.23Z" fill="#0000ff"/><path d="M505.22 1368.52H521.22L513.22 1354.12Z" fill="#0000ff"/><path d="M520.74 1369.62H536.74L528.74 1355.22Z" fill="#0000ff"/><path d="M531.75 1370.38H547.75L539.75 1355.98Z" fill="#0000ff"/><path d="M540.29 1370.94H556.29L548.29 1356.54Z" fill="#0000ff"/><path d="M547.26 1371.38H563.26L555.26 1356.98Z" fill="#0000ff"/><path d="M553.16 1371.74H569.16L561.16 1357.34Z" fill="#0000ff"/><path d="M558.27 1372.04H574.27L566.27 1357.64Z" fill="#0000ff"/><path d="M562.78 1372.29H578.78L570.78 1357.89Z" fill="#0000ff"/><path d="M566.81 1372.50H582.81L574.81 1358.10Z" fill="#0000ff"/><path d="M582.32 1373.24H598.32L590.32 1358.84Z" fill="#0000ff"/><path d="M593.33 1373.66H609.33L601.33 1359.26Z" fill="#0000ff"/><path d="M601.87 1373.91H617.87L609.87 1359.51Z" fill="#0000ff"/><path d="M608.85 1374.08H624.85L616.85 1359.68Z" fill="#0000ff"/><path d="M614.74 1374.18H630.74L622.74 1359.78Z" fill="#0000ff"/><path d="M619.85 1374.24H635.85L627.85 1359.84Z" fill="#0000ff"/><path d="M624.36 1374.27H640.36L632.36 1359.87Z" fill="#0000ff"/><path d="M628.39 1374.28H644.39L636.39 1359.88Z" fill="#0000ff"/></g>
<path d="M195.86 1165.44L197.42 1168.75L198.98 1172.05L200.54 1175.34L202.10 1178.61L203.66 1181.85L205.22 1185.07L206.78 1188.26L208.34 1191.40L209.90 1194.50L211.46 1197.55L213.02 1200.54L214.58 1203.46L216.14 1206.32L217.70 1209.10L219.26 1211.80L220.82 1214.42L222.38 1216.94L223.94 1219.37L225.50 1221.70L227.06 1223.93L228.62 1226.07L230.18 1228.13L231.74 1230.09L233.30 1231.96L234.86 1233.75L236.42 1235.45L237.98 1237.07L239.54 1238.60L241.10 1240.06L242.66 1241.44L244.22 1242.74L245.78 1243.96L247.34 1245.11L248.90 1246.19L250.46 1247.20L252.01 1248.15L253.56 1249.05L255.11 1249.91L256.66 1250.76L258.21 1251.60L259.76 1252.44L261.32 1253.30L262.87 1254.18L264.42 1255.11L265.99 1256.09L267.56 1257.13L269.14 1258.20L270.71 1259.32L272.28 1260.46L273.85 1261.62L275.43 1262.81L277.13 1264.11L278.84 1265.42L280.55 1266.75L282.26 1268.08L283.97 1269.43L285.71 1270.82L287.45 1272.22L289.20 1273.62L290.94 1275.01L292.91 1276.59L294.87 1278.15L296.84 1279.70L298.54 1281.03L300.25 1282.34L301.95 1283.64L303.45 1284.77L304.95 1285.88L306.46 1286.97L308.47 1288.39L310.49 1289.78L312.05 1290.86L313.61 1291.92L315.17 1292.98L316.73 1294.04L318.29 1295.08L319.85 1296.11L321.41 1297.13L322.97 1298.14L324.53 1299.12L326.09 1300.09L327.65 1301.05L329.21 1301.98L330.77 1302.88L332.33 1303.77L333.89 1304.62L335.45 1305.45L337.01 1306.25L338.56 1307.02L340.11 1307.75L341.67 1308.47L343.22 1309.16L344.77 1309.83L346.32 1310.49L347.87 1311.14L349.42 1311.77L350.97 1312.40L352.53 1313.03L354.10 1313.67L355.67 1314.30L357.24 1314.93L358.82 1315.56L360.39 1316.19L361.96 1316.82L363.53 1317.44L365.24 1318.11L366.95 1318.78L368.66 1319.44L370.36 1320.10L372.07 1320.75L373.82 1321.41L375.56 1322.06L377.30 1322.72L379.05 1323.36L381.01 1324.09L382.98 1324.80L384.95 1325.51L386.65 1326.12L388.35 1326.72L390.06 1327.32L391.56 1327.85L393.06 1328.37L394.56 1328.88L396.58 1329.56L398.60 1330.24L400.16 1330.76L401.72 1331.28L403.28 1331.80L404.84 1332.32L406.40 1332.83L407.96 1333.33L409.52 1333.83L411.08 1334.33L412.64 1334.81L414.20 1335.29L415.76 1335.76L417.32 1336.22L418.88 1336.67L420.44 1337.11L422.00 1337.54L423.56 1337.95L425.12 1338.35L426.67 1338.73L428.22 1339.10L429.77 1339.46L431.32 1339.81L432.88 1340.15L434.43 1340.48L435.98 1340.80L437.53 1341.11L439.08 1341.42L440.63 1341.73L442.21 1342.04L443.78 1342.34L445.35 1342.64L446.92 1342.94L448.50 1343.23L450.07 1343.53L451.64 1343.81L453.35 1344.12L455.06 1344.42L456.76 1344.72L458.47 1345.02L460.18 1345.32L461.92 1345.61L463.67 1345.91L465.41 1346.21L467.16 1346.51L469.12 1346.84L471.09 1347.17L473.05 1347.50L474.76 1347.79L476.46 1348.08L478.16 1348.38L479.67 1348.64L481.17 1348.90L482.67 1349.16L484.69 1349.52L486.70 1349.88L488.26 1350.16L489.82 1350.44L491.38 1350.72L492.94 1351.00L494.50 1351.28L496.06 1351.56L497.62 1351.84L499.18 1352.12L500.74 1352.39L502.30 1352.67L503.86 1352.94L505.42 1353.21L506.98 1353.48L508.54 1353.74L510.10 1354.00L511.66 1354.25L513.22 1354.51L514.78 1354.75L516.33 1354.99L517.88 1355.23L519.43 1355.47L520.98 1355.70L522.53 1355.93L524.08 1356.16L525.64 1356.38L527.19 1356.61L528.74 1356.83L530.31 1357.06L531.88 1357.28L533.46 1357.51L535.03 1357.73L536.60 1357.96L538.17 1358.18L539.75 1358.40L541.46 1358.63L543.16 1358.87L544.87 1359.10L546.58 1359.32L548.29 1359.55L550.03 1359.77L551.77 1359.99L553.52 1360.21L555.26 1360.43L557.23 1360.67L559.19 1360.90L561.16 1361.13L562.86 1361.32L564.57 1361.51L566.27 1361.70L567.77 1361.86L569.27 1362.02L570.78 1362.17L572.79 1362.37L574.81 1362.57L576.36 1362.72L577.91 1362.86L579.46 1363.01L581.01 1363.15L582.57 1363.30L584.12 1363.44L585.67 1363.58L587.22 1363.72L588.77 1363.85L590.32 1363.99L591.90 1364.13L593.47 1364.26L595.04 1364.39L596.61 1364.53L598.19 1364.66L599.76 1364.78L601.33 1364.91L603.04 1365.05L604.75 1365.18L606.45 1365.31L608.16 1365.44L609.87 1365.57L611.61 1365.69L613.36 1365.82L615.10 1365.94L616.85 1366.06L618.81 1366.19L620.78 1366.31L622.74 1366.43L624.45 1366.54L626.15 1366.64L627.85 1366.74L629.36 1366.82L630.86 1366.90L632.36 1366.98L634.38 1367.08L636.39 1367.18" fill="none" stroke="#800000" stroke-width="4.3" stroke-linejoin="round"/>
<g><rect x="188.86" y="1158.44" width="14" height="14" fill="#800000"/><rect x="215.38" y="1209.94" width="14" height="14" fill="#800000"/><rect x="241.90" y="1239.19" width="14" height="14" fill="#800000"/><rect x="257.42" y="1248.11" width="14" height="14" fill="#800000"/><rect x="268.43" y="1255.81" width="14" height="14" fill="#800000"/><rect x="276.97" y="1262.43" width="14" height="14" fill="#800000"/><rect x="283.94" y="1268.01" width="14" height="14" fill="#800000"/><rect x="289.84" y="1272.70" width="14" height="14" fill="#800000"/><rect x="294.95" y="1276.64" width="14" height="14" fill="#800000"/><rect x="299.46" y="1279.97" width="14" height="14" fill="#800000"/><rect x="303.49" y="1282.78" width="14" height="14" fill="#800000"/><rect x="330.01" y="1299.25" width="14" height="14" fill="#800000"/><rect x="345.53" y="1306.03" width="14" height="14" fill="#800000"/><rect x="356.53" y="1310.44" width="14" height="14" fill="#800000"/><rect x="365.07" y="1313.75" width="14" height="14" fill="#800000"/><rect x="372.05" y="1316.36" width="14" height="14" fill="#800000"/><rect x="377.95" y="1318.51" width="14" height="14" fill="#800000"/><rect x="383.06" y="1320.32" width="14" height="14" fill="#800000"/><rect x="387.56" y="1321.88" width="14" height="14" fill="#800000"/><rect x="391.60" y="1323.24" width="14" height="14" fill="#800000"/><rect x="418.12" y="1331.35" width="14" height="14" fill="#800000"/><rect x="433.63" y="1334.73" width="14" height="14" fill="#800000"/><rect x="444.64" y="1336.81" width="14" height="14" fill="#800000"/><rect x="453.18" y="1338.32" width="14" height="14" fill="#800000"/><rect x="460.16" y="1339.51" width="14" height="14" fill="#800000"/><rect x="466.05" y="1340.50" width="14" height="14" fill="#800000"/><rect x="471.16" y="1341.38" width="14" height="14" fill="#800000"/><rect x="475.67" y="1342.16" width="14" height="14" fill="#800000"/><rect x="479.70" y="1342.88" width="14" height="14" fill="#800000"/><rect x="506.22" y="1347.51" width="14" height="14" fill="#800000"/><rect x="521.74" y="1349.83" width="14" height="14" fill="#800000"/><rect x="532.75" y="1351.40" width="14" height="14" fill="#800000"/><rect x="541.29" y="1352.55" width="14" height="14" fill="#800000"/><rect x="548.26" y="1353.43" width="14" height="14" fill="#800000"/><rect x="554.16" y="1354.13" width="14" height="14" fill="#800000"/><rect x="559.27" y="1354.70" width="14" height="14" fill="#800000"/><rect x="563.78" y="1355.17" width="14" height="14" fill="#800000"/><rect x="567.81" y="1355.57" width="14" height="14" fill="#800000"/><rect x="583.32" y="1356.99" width="14" height="14" fill="#800000"/><rect x="594.33" y="1357.91" width="14" height="14" fill="#800000"/><rect x="602.87" y="1358.57" width="14" height="14" fill="#800000"/><rect x="609.85" y="1359.06" width="14" height="14" fill="#800000"/><rect x="615.74" y="1359.43" width="14" height="14" fill="#800000"/><rect x="620.85" y="1359.74" width="14" height="14" fill="#800000"/><rect x="625.36" y="1359.98" width="14" height="14" fill="#800000"/><rect x="629.39" y="1360.18" width="14" height="14" fill="#800000"/></g>
<path d="M195.86 1291.05L197.42 1292.14L198.98 1293.23L200.54 1294.32L202.10 1295.40L203.66 1296.48L205.22 1297.54L206.78 1298.60L208.34 1299.64L209.90 1300.67L211.46 1301.69L213.02 1302.68L214.58 1303.66L216.14 1304.61L217.70 1305.54L219.26 1306.45L220.82 1307.33L222.38 1308.18L223.94 1309.00L225.50 1309.79L227.06 1310.55L228.62 1311.29L230.18 1312.00L231.74 1312.69L233.30 1313.36L234.86 1314.00L236.42 1314.62L237.98 1315.23L239.54 1315.81L241.10 1316.38L242.66 1316.94L244.22 1317.48L245.78 1318.00L247.34 1318.52L248.90 1319.03L250.46 1319.52L252.01 1320.01L253.56 1320.49L255.11 1320.96L256.66 1321.44L258.21 1321.91L259.76 1322.38L261.32 1322.86L262.87 1323.34L264.42 1323.82L265.99 1324.32L267.56 1324.83L269.14 1325.34L270.71 1325.85L272.28 1326.37L273.85 1326.90L275.43 1327.42L277.13 1328.00L278.84 1328.57L280.55 1329.15L282.26 1329.73L283.97 1330.31L285.71 1330.90L287.45 1331.49L289.20 1332.08L290.94 1332.66L292.91 1333.32L294.87 1333.97L296.84 1334.62L298.54 1335.17L300.25 1335.72L301.95 1336.26L303.45 1336.74L304.95 1337.20L306.46 1337.66L308.47 1338.27L310.49 1338.86L312.05 1339.32L313.61 1339.76L315.17 1340.20L316.73 1340.63L318.29 1341.06L319.85 1341.48L321.41 1341.90L322.97 1342.32L324.53 1342.73L326.09 1343.13L327.65 1343.54L329.21 1343.94L330.77 1344.34L332.33 1344.74L333.89 1345.14L335.45 1345.54L337.01 1345.94L338.56 1346.33L340.11 1346.73L341.67 1347.12L343.22 1347.51L344.77 1347.89L346.32 1348.27L347.87 1348.64L349.42 1348.99L350.97 1349.34L352.53 1349.67L354.10 1349.99L355.67 1350.30L357.24 1350.60L358.82 1350.89L360.39 1351.16L361.96 1351.44L363.53 1351.71L365.24 1352.00L366.95 1352.28L368.66 1352.57L370.36 1352.84L372.07 1353.12L373.82 1353.39L375.56 1353.66L377.30 1353.93L379.05 1354.19L381.01 1354.48L382.98 1354.77L384.95 1355.06L386.65 1355.31L388.35 1355.55L390.06 1355.80L391.56 1356.01L393.06 1356.22L394.56 1356.44L396.58 1356.72L398.60 1357.01L400.16 1357.23L401.72 1357.45L403.28 1357.67L404.84 1357.89L406.40 1358.11L407.96 1358.32L409.52 1358.54L411.08 1358.75L412.64 1358.96L414.20 1359.16L415.76 1359.36L417.32 1359.56L418.88 1359.75L420.44 1359.94L422.00 1360.13L423.56 1360.31L425.12 1360.49L426.67 1360.66L428.22 1360.82L429.77 1360.98L431.32 1361.14L432.88 1361.29L434.43 1361.44L435.98 1361.59L437.53 1361.74L439.08 1361.88L440.63 1362.03L442.21 1362.18L443.78 1362.32L445.35 1362.47L446.92 1362.61L448.50 1362.76L450.07 1362.90L451.64 1363.04L453.35 1363.18L455.06 1363.33L456.76 1363.47L458.47 1363.61L460.18 1363.75L461.92 1363.88L463.67 1364.02L465.41 1364.15L467.16 1364.28L469.12 1364.41L471.09 1364.55L473.05 1364.68L474.76 1364.79L476.46 1364.89L478.16 1364.99L479.67 1365.08L481.17 1365.16L482.67 1365.24L484.69 1365.35L486.70 1365.44L488.26 1365.51L489.82 1365.58L491.38 1365.64L492.94 1365.70L494.50 1365.76L496.06 1365.81L497.62 1365.86L499.18 1365.92L500.74 1365.97L502.30 1366.01L503.86 1366.06L505.42 1366.11L506.98 1366.16L508.54 1366.21L510.10 1366.26L511.66 1366.31L513.22 1366.37L514.78 1366.42L516.33 1366.48L517.88 1366.54L519.43 1366.60L520.98 1366.66L522.53 1366.73L524.08 1366.79L525.64 1366.86L527.19 1366.92L528.74 1366.99L530.31 1367.05L531.88 1367.12L533.46 1367.19L535.03 1367.25L536.60 1367.32L538.17 1367.39L539.75 1367.46L541.46 1367.53L543.16 1367.60L544.87 1367.68L546.58 1367.75L548.29 1367.82L550.03 1367.90L551.77 1367.97L553.52 1368.05L555.26 1368.12L557.23 1368.20L559.19 1368.29L561.16 1368.37L562.86 1368.44L564.57 1368.51L566.27 1368.58L567.77 1368.64L569.27 1368.69L570.78 1368.75L572.79 1368.83L574.81 1368.90L576.36 1368.96L577.91 1369.02L579.46 1369.08L581.01 1369.13L582.57 1369.19L584.12 1369.25L585.67 1369.30L587.22 1369.36L588.77 1369.41L590.32 1369.47L591.90 1369.52L593.47 1369.58L595.04 1369.63L596.61 1369.69L598.19 1369.74L599.76 1369.80L601.33 1369.85L603.04 1369.91L604.75 1369.97L606.45 1370.03L608.16 1370.08L609.87 1370.14L611.61 1370.20L613.36 1370.26L615.10 1370.31L616.85 1370.37L618.81 1370.43L620.78 1370.50L622.74 1370.56L624.45 1370.61L626.15 1370.67L627.85 1370.72L629.36 1370.77L630.86 1370.81L632.36 1370.86L634.38 1370.92L636.39 1370.98" fill="none" stroke="#008000" stroke-width="4.3" stroke-linejoin="round"/>
<g><rect x="188.86" y="1284.05" width="14" height="14" fill="#008000"/><rect x="215.38" y="1301.18" width="14" height="14" fill="#008000"/><rect x="241.90" y="1312.03" width="14" height="14" fill="#008000"/><rect x="257.42" y="1316.82" width="14" height="14" fill="#008000"/><rect x="268.43" y="1320.42" width="14" height="14" fill="#008000"/><rect x="276.97" y="1323.31" width="14" height="14" fill="#008000"/><rect x="283.94" y="1325.66" width="14" height="14" fill="#008000"/><rect x="289.84" y="1327.62" width="14" height="14" fill="#008000"/><rect x="294.95" y="1329.26" width="14" height="14" fill="#008000"/><rect x="299.46" y="1330.66" width="14" height="14" fill="#008000"/><rect x="303.49" y="1331.86" width="14" height="14" fill="#008000"/><rect x="330.01" y="1338.94" width="14" height="14" fill="#008000"/><rect x="345.53" y="1342.67" width="14" height="14" fill="#008000"/><rect x="356.53" y="1344.71" width="14" height="14" fill="#008000"/><rect x="365.07" y="1346.12" width="14" height="14" fill="#008000"/><rect x="372.05" y="1347.19" width="14" height="14" fill="#008000"/><rect x="377.95" y="1348.06" width="14" height="14" fill="#008000"/><rect x="383.06" y="1348.80" width="14" height="14" fill="#008000"/><rect x="387.56" y="1349.44" width="14" height="14" fill="#008000"/><rect x="391.60" y="1350.01" width="14" height="14" fill="#008000"/><rect x="418.12" y="1353.49" width="14" height="14" fill="#008000"/><rect x="433.63" y="1355.03" width="14" height="14" fill="#008000"/><rect x="444.64" y="1356.04" width="14" height="14" fill="#008000"/><rect x="453.18" y="1356.75" width="14" height="14" fill="#008000"/><rect x="460.16" y="1357.28" width="14" height="14" fill="#008000"/><rect x="466.05" y="1357.68" width="14" height="14" fill="#008000"/><rect x="471.16" y="1357.99" width="14" height="14" fill="#008000"/><rect x="475.67" y="1358.24" width="14" height="14" fill="#008000"/><rect x="479.70" y="1358.44" width="14" height="14" fill="#008000"/><rect x="506.22" y="1359.37" width="14" height="14" fill="#008000"/><rect x="521.74" y="1359.99" width="14" height="14" fill="#008000"/><rect x="532.75" y="1360.46" width="14" height="14" fill="#008000"/><rect x="541.29" y="1360.82" width="14" height="14" fill="#008000"/><rect x="548.26" y="1361.12" width="14" height="14" fill="#008000"/><rect x="554.16" y="1361.37" width="14" height="14" fill="#008000"/><rect x="559.27" y="1361.58" width="14" height="14" fill="#008000"/><rect x="563.78" y="1361.75" width="14" height="14" fill="#008000"/><rect x="567.81" y="1361.90" width="14" height="14" fill="#008000"/><rect x="583.32" y="1362.47" width="14" height="14" fill="#008000"/><rect x="594.33" y="1362.85" width="14" height="14" fill="#008000"/><rect x="602.87" y="1363.14" width="14" height="14" fill="#008000"/><rect x="609.85" y="1363.37" width="14" height="14" fill="#008000"/><rect x="615.74" y="1363.56" width="14" height="14" fill="#008000"/><rect x="620.85" y="1363.72" width="14" height="14" fill="#008000"/><rect x="625.36" y="1363.86" width="14" height="14" fill="#008000"/><rect x="629.39" y="1363.98" width="14" height="14" fill="#008000"/></g>
<path d="M195.86 1216.08L197.42 1217.70L198.98 1219.31L200.54 1220.93L202.10 1222.54L203.66 1224.16L205.22 1225.76L206.78 1227.37L208.34 1228.97L209.90 1230.56L211.46 1232.15L213.02 1233.74L214.58 1235.31L216.14 1236.88L217.70 1238.44L219.26 1239.99L220.82 1241.53L222.38 1243.07L223.94 1244.59L225.50 1246.09L227.06 1247.59L228.62 1249.07L230.18 1250.53L231.74 1251.97L233.30 1253.40L234.86 1254.80L236.42 1256.17L237.98 1257.53L239.54 1258.85L241.10 1260.15L242.66 1261.41L244.22 1262.65L245.78 1263.85L247.34 1265.02L248.90 1266.15L250.46 1267.23L252.01 1268.29L253.56 1269.32L255.11 1270.32L256.66 1271.31L258.21 1272.29L259.76 1273.27L261.32 1274.24L262.87 1275.22L264.42 1276.21L265.99 1277.23L267.56 1278.27L269.14 1279.32L270.71 1280.37L272.28 1281.44L273.85 1282.51L275.43 1283.59L277.13 1284.77L278.84 1285.94L280.55 1287.11L282.26 1288.29L283.97 1289.46L285.71 1290.65L287.45 1291.84L289.20 1293.02L290.94 1294.19L292.91 1295.50L294.87 1296.79L296.84 1298.07L298.54 1299.15L300.25 1300.22L301.95 1301.27L303.45 1302.18L304.95 1303.07L306.46 1303.94L308.47 1305.08L310.49 1306.18L312.05 1307.02L313.61 1307.84L315.17 1308.65L316.73 1309.44L318.29 1310.22L319.85 1310.99L321.41 1311.74L322.97 1312.48L324.53 1313.20L326.09 1313.91L327.65 1314.62L329.21 1315.31L330.77 1315.98L332.33 1316.65L333.89 1317.31L335.45 1317.96L337.01 1318.60L338.56 1319.22L340.11 1319.84L341.67 1320.45L343.22 1321.05L344.77 1321.64L346.32 1322.23L347.87 1322.82L349.42 1323.40L350.97 1323.98L352.53 1324.56L354.10 1325.14L355.67 1325.72L357.24 1326.30L358.82 1326.88L360.39 1327.45L361.96 1328.03L363.53 1328.61L365.24 1329.24L366.95 1329.87L368.66 1330.49L370.36 1331.11L372.07 1331.73L373.82 1332.36L375.56 1332.97L377.30 1333.59L379.05 1334.19L381.01 1334.86L382.98 1335.52L384.95 1336.16L386.65 1336.71L388.35 1337.24L390.06 1337.77L391.56 1338.22L393.06 1338.65L394.56 1339.08L396.58 1339.63L398.60 1340.16L400.16 1340.57L401.72 1340.96L403.28 1341.35L404.84 1341.73L406.40 1342.10L407.96 1342.46L409.52 1342.81L411.08 1343.16L412.64 1343.49L414.20 1343.82L415.76 1344.13L417.32 1344.44L418.88 1344.74L420.44 1345.03L422.00 1345.31L423.56 1345.58L425.12 1345.84L426.67 1346.09L428.22 1346.33L429.77 1346.57L431.32 1346.80L432.88 1347.02L434.43 1347.24L435.98 1347.46L437.53 1347.68L439.08 1347.90L440.63 1348.12L442.21 1348.35L443.78 1348.58L445.35 1348.82L446.92 1349.07L448.50 1349.32L450.07 1349.57L451.64 1349.84L453.35 1350.13L455.06 1350.43L456.76 1350.74L458.47 1351.06L460.18 1351.38L461.92 1351.72L463.67 1352.06L465.41 1352.41L467.16 1352.76L469.12 1353.15L471.09 1353.54L473.05 1353.92L474.76 1354.24L476.46 1354.56L478.16 1354.87L479.67 1355.13L481.17 1355.38L482.67 1355.63L484.69 1355.93L486.70 1356.22L488.26 1356.43L489.82 1356.64L491.38 1356.84L492.94 1357.04L494.50 1357.23L496.06 1357.41L497.62 1357.59L499.18 1357.76L500.74 1357.93L502.30 1358.09L503.86 1358.25L505.42 1358.40L506.98 1358.55L508.54 1358.70L510.10 1358.84L511.66 1358.98L513.22 1359.11L514.78 1359.24L516.33 1359.36L517.88 1359.49L519.43 1359.61L520.98 1359.72L522.53 1359.84L524.08 1359.95L525.64 1360.05L527.19 1360.16L528.74 1360.26L530.31 1360.37L531.88 1360.47L533.46 1360.57L535.03 1360.67L536.60 1360.76L538.17 1360.86L539.75 1360.95L541.46 1361.05L543.16 1361.15L544.87 1361.25L546.58 1361.35L548.29 1361.45L550.03 1361.55L551.77 1361.65L553.52 1361.76L555.26 1361.86L557.23 1361.98L559.19 1362.10L561.16 1362.22L562.86 1362.33L564.57 1362.43L566.27 1362.55L567.77 1362.65L569.27 1362.75L570.78 1362.85L572.79 1363.00L574.81 1363.14L576.36 1363.26L577.91 1363.37L579.46 1363.49L581.01 1363.61L582.57 1363.73L584.12 1363.85L585.67 1363.98L587.22 1364.10L588.77 1364.22L590.32 1364.35L591.90 1364.48L593.47 1364.60L595.04 1364.73L596.61 1364.86L598.19 1365.00L599.76 1365.13L601.33 1365.26L603.04 1365.41L604.75 1365.55L606.45 1365.70L608.16 1365.85L609.87 1366.00L611.61 1366.15L613.36 1366.31L615.10 1366.46L616.85 1366.62L618.81 1366.80L620.78 1366.98L622.74 1367.16L624.45 1367.32L626.15 1367.48L627.85 1367.64L629.36 1367.78L630.86 1367.92L632.36 1368.06L634.38 1368.26L636.39 1368.45" fill="none" stroke="#808000" stroke-width="4.3" stroke-linejoin="round"/>
<g><path d="M195.86 1206.38L205.56 1216.08L195.86 1225.78L186.16 1216.08Z" fill="#808000"/><path d="M222.38 1233.37L232.08 1243.07L222.38 1252.77L212.68 1243.07Z" fill="#808000"/><path d="M248.90 1256.45L258.60 1266.15L248.90 1275.85L239.20 1266.15Z" fill="#808000"/><path d="M264.42 1266.51L274.12 1276.21L264.42 1285.91L254.72 1276.21Z" fill="#808000"/><path d="M275.43 1273.89L285.13 1283.59L275.43 1293.29L265.73 1283.59Z" fill="#808000"/><path d="M283.97 1279.76L293.67 1289.46L283.97 1299.16L274.27 1289.46Z" fill="#808000"/><path d="M290.94 1284.49L300.64 1294.19L290.94 1303.89L281.24 1294.19Z" fill="#808000"/><path d="M296.84 1288.37L306.54 1298.07L296.84 1307.77L287.14 1298.07Z" fill="#808000"/><path d="M301.95 1291.57L311.65 1301.27L301.95 1310.97L292.25 1301.27Z" fill="#808000"/><path d="M306.46 1294.24L316.16 1303.94L306.46 1313.64L296.76 1303.94Z" fill="#808000"/><path d="M310.49 1296.48L320.19 1306.18L310.49 1315.88L300.79 1306.18Z" fill="#808000"/><path d="M337.01 1308.90L346.71 1318.60L337.01 1328.30L327.31 1318.60Z" fill="#808000"/><path d="M352.53 1314.86L362.23 1324.56L352.53 1334.26L342.83 1324.56Z" fill="#808000"/><path d="M363.53 1318.91L373.23 1328.61L363.53 1338.31L353.83 1328.61Z" fill="#808000"/><path d="M372.07 1322.03L381.77 1331.73L372.07 1341.43L362.37 1331.73Z" fill="#808000"/><path d="M379.05 1324.49L388.75 1334.19L379.05 1343.89L369.35 1334.19Z" fill="#808000"/><path d="M384.95 1326.46L394.65 1336.16L384.95 1345.86L375.25 1336.16Z" fill="#808000"/><path d="M390.06 1328.07L399.76 1337.77L390.06 1347.47L380.36 1337.77Z" fill="#808000"/><path d="M394.56 1329.38L404.26 1339.08L394.56 1348.78L384.86 1339.08Z" fill="#808000"/><path d="M398.60 1330.46L408.30 1340.16L398.60 1349.86L388.90 1340.16Z" fill="#808000"/><path d="M425.12 1336.14L434.82 1345.84L425.12 1355.54L415.42 1345.84Z" fill="#808000"/><path d="M440.63 1338.42L450.33 1348.12L440.63 1357.82L430.93 1348.12Z" fill="#808000"/><path d="M451.64 1340.14L461.34 1349.84L451.64 1359.54L441.94 1349.84Z" fill="#808000"/><path d="M460.18 1341.68L469.88 1351.38L460.18 1361.08L450.48 1351.38Z" fill="#808000"/><path d="M467.16 1343.06L476.86 1352.76L467.16 1362.46L457.46 1352.76Z" fill="#808000"/><path d="M473.05 1344.22L482.75 1353.92L473.05 1363.62L463.35 1353.92Z" fill="#808000"/><path d="M478.16 1345.17L487.86 1354.87L478.16 1364.57L468.46 1354.87Z" fill="#808000"/><path d="M482.67 1345.93L492.37 1355.63L482.67 1365.33L472.97 1355.63Z" fill="#808000"/><path d="M486.70 1346.52L496.40 1356.22L486.70 1365.92L477.00 1356.22Z" fill="#808000"/><path d="M513.22 1349.41L522.92 1359.11L513.22 1368.81L503.52 1359.11Z" fill="#808000"/><path d="M528.74 1350.56L538.44 1360.26L528.74 1369.96L519.04 1360.26Z" fill="#808000"/><path d="M539.75 1351.25L549.45 1360.95L539.75 1370.65L530.05 1360.95Z" fill="#808000"/><path d="M548.29 1351.75L557.99 1361.45L548.29 1371.15L538.59 1361.45Z" fill="#808000"/><path d="M555.26 1352.16L564.96 1361.86L555.26 1371.56L545.56 1361.86Z" fill="#808000"/><path d="M561.16 1352.52L570.86 1362.22L561.16 1371.92L551.46 1362.22Z" fill="#808000"/><path d="M566.27 1352.85L575.97 1362.55L566.27 1372.25L556.57 1362.55Z" fill="#808000"/><path d="M570.78 1353.15L580.48 1362.85L570.78 1372.55L561.08 1362.85Z" fill="#808000"/><path d="M574.81 1353.44L584.51 1363.14L574.81 1372.84L565.11 1363.14Z" fill="#808000"/><path d="M590.32 1354.65L600.02 1364.35L590.32 1374.05L580.62 1364.35Z" fill="#808000"/><path d="M601.33 1355.56L611.03 1365.26L601.33 1374.96L591.63 1365.26Z" fill="#808000"/><path d="M609.87 1356.30L619.57 1366.00L609.87 1375.70L600.17 1366.00Z" fill="#808000"/><path d="M616.85 1356.92L626.55 1366.62L616.85 1376.32L607.15 1366.62Z" fill="#808000"/><path d="M622.74 1357.46L632.44 1367.16L622.74 1376.86L613.04 1367.16Z" fill="#808000"/><path d="M627.85 1357.94L637.55 1367.64L627.85 1377.34L618.15 1367.64Z" fill="#808000"/><path d="M632.36 1358.36L642.06 1368.06L632.36 1377.76L622.66 1368.06Z" fill="#808000"/><path d="M636.39 1358.75L646.09 1368.45L636.39 1378.15L626.69 1368.45Z" fill="#808000"/></g>
<line x1="128.90" y1="1386.20" x2="135.90" y2="1386.20" stroke="#000" stroke-width="2"/><line x1="128.90" y1="1374.67" x2="138.10" y2="1374.67" stroke="#000" stroke-width="2.4"/><line x1="128.90" y1="1363.13" x2="135.90" y2="1363.13" stroke="#000" stroke-width="2"/><line x1="128.90" y1="1351.60" x2="135.90" y2="1351.60" stroke="#000" stroke-width="2"/><line x1="128.90" y1="1340.07" x2="135.90" y2="1340.07" stroke="#000" stroke-width="2"/><line x1="128.90" y1="1328.53" x2="135.90" y2="1328.53" stroke="#000" stroke-width="2"/><line x1="128.90" y1="1317.00" x2="138.10" y2="1317.00" stroke="#000" stroke-width="2.4"/><line x1="128.90" y1="1305.47" x2="135.90" y2="1305.47" stroke="#000" stroke-width="2"/><line x1="128.90" y1="1293.93" x2="135.90" y2="1293.93" stroke="#000" stroke-width="2"/><line x1="128.90" y1="1282.40" x2="135.90" y2="1282.40" stroke="#000" stroke-width="2"/><line x1="128.90" y1="1270.87" x2="135.90" y2="1270.87" stroke="#000" stroke-width="2"/><line x1="128.90" y1="1259.33" x2="138.10" y2="1259.33" stroke="#000" stroke-width="2.4"/><line x1="128.90" y1="1247.80" x2="135.90" y2="1247.80" stroke="#000" stroke-width="2"/><line x1="128.90" y1="1236.27" x2="135.90" y2="1236.27" stroke="#000" stroke-width="2"/><line x1="128.90" y1="1224.73" x2="135.90" y2="1224.73" stroke="#000" stroke-width="2"/><line x1="128.90" y1="1213.20" x2="135.90" y2="1213.20" stroke="#000" stroke-width="2"/><line x1="128.90" y1="1201.67" x2="138.10" y2="1201.67" stroke="#000" stroke-width="2.4"/><line x1="128.90" y1="1190.13" x2="135.90" y2="1190.13" stroke="#000" stroke-width="2"/><line x1="128.90" y1="1178.60" x2="135.90" y2="1178.60" stroke="#000" stroke-width="2"/><line x1="128.90" y1="1167.07" x2="135.90" y2="1167.07" stroke="#000" stroke-width="2"/><line x1="128.90" y1="1155.53" x2="135.90" y2="1155.53" stroke="#000" stroke-width="2"/><line x1="128.90" y1="1144.00" x2="138.10" y2="1144.00" stroke="#000" stroke-width="2.4"/><line x1="128.90" y1="1132.47" x2="135.90" y2="1132.47" stroke="#000" stroke-width="2"/><line x1="128.90" y1="1120.93" x2="135.90" y2="1120.93" stroke="#000" stroke-width="2"/><line x1="128.90" y1="1109.40" x2="135.90" y2="1109.40" stroke="#000" stroke-width="2"/><line x1="128.90" y1="1097.87" x2="135.90" y2="1097.87" stroke="#000" stroke-width="2"/><line x1="128.90" y1="1086.33" x2="138.10" y2="1086.33" stroke="#000" stroke-width="2.4"/><line x1="128.90" y1="1074.80" x2="135.90" y2="1074.80" stroke="#000" stroke-width="2"/><line x1="128.90" y1="1063.27" x2="135.90" y2="1063.27" stroke="#000" stroke-width="2"/><line x1="128.90" y1="1051.73" x2="135.90" y2="1051.73" stroke="#000" stroke-width="2"/><line x1="128.90" y1="1040.20" x2="135.90" y2="1040.20" stroke="#000" stroke-width="2"/><line x1="128.90" y1="1028.67" x2="138.10" y2="1028.67" stroke="#000" stroke-width="2.4"/><line x1="128.90" y1="1017.13" x2="135.90" y2="1017.13" stroke="#000" stroke-width="2"/><line x1="128.90" y1="1005.60" x2="135.90" y2="1005.60" stroke="#000" stroke-width="2"/><line x1="128.90" y1="994.07" x2="135.90" y2="994.07" stroke="#000" stroke-width="2"/><line x1="128.90" y1="982.53" x2="135.90" y2="982.53" stroke="#000" stroke-width="2"/><line x1="128.90" y1="971.00" x2="138.10" y2="971.00" stroke="#000" stroke-width="2.4"/><line x1="128.90" y1="1386.20" x2="128.90" y2="1377.00" stroke="#000" stroke-width="2.4"/><line x1="144.21" y1="1386.20" x2="144.21" y2="1379.20" stroke="#000" stroke-width="2"/><line x1="159.51" y1="1386.20" x2="159.51" y2="1379.20" stroke="#000" stroke-width="2"/><line x1="174.82" y1="1386.20" x2="174.82" y2="1379.20" stroke="#000" stroke-width="2"/><line x1="190.12" y1="1386.20" x2="190.12" y2="1379.20" stroke="#000" stroke-width="2"/><line x1="205.43" y1="1386.20" x2="205.43" y2="1377.00" stroke="#000" stroke-width="2.4"/><line x1="220.73" y1="1386.20" x2="220.73" y2="1379.20" stroke="#000" stroke-width="2"/><line x1="236.04" y1="1386.20" x2="236.04" y2="1379.20" stroke="#000" stroke-width="2"/><line x1="251.35" y1="1386.20" x2="251.35" y2="1379.20" stroke="#000" stroke-width="2"/><line x1="266.65" y1="1386.20" x2="266.65" y2="1379.20" stroke="#000" stroke-width="2"/><line x1="281.96" y1="1386.20" x2="281.96" y2="1377.00" stroke="#000" stroke-width="2.4"/><line x1="297.26" y1="1386.20" x2="297.26" y2="1379.20" stroke="#000" stroke-width="2"/><line x1="312.57" y1="1386.20" x2="312.57" y2="1379.20" stroke="#000" stroke-width="2"/><line x1="327.87" y1="1386.20" x2="327.87" y2="1379.20" stroke="#000" stroke-width="2"/><line x1="343.18" y1="1386.20" x2="343.18" y2="1379.20" stroke="#000" stroke-width="2"/><line x1="358.49" y1="1386.20" x2="358.49" y2="1377.00" stroke="#000" stroke-width="2.4"/><line x1="373.79" y1="1386.20" x2="373.79" y2="1379.20" stroke="#000" stroke-width="2"/><line x1="389.10" y1="1386.20" x2="389.10" y2="1379.20" stroke="#000" stroke-width="2"/><line x1="404.40" y1="1386.20" x2="404.40" y2="1379.20" stroke="#000" stroke-width="2"/><line x1="419.71" y1="1386.20" x2="419.71" y2="1379.20" stroke="#000" stroke-width="2"/><line x1="435.01" y1="1386.20" x2="435.01" y2="1377.00" stroke="#000" stroke-width="2.4"/><line x1="450.32" y1="1386.20" x2="450.32" y2="1379.20" stroke="#000" stroke-width="2"/><line x1="465.63" y1="1386.20" x2="465.63" y2="1379.20" stroke="#000" stroke-width="2"/><line x1="480.93" y1="1386.20" x2="480.93" y2="1379.20" stroke="#000" stroke-width="2"/><line x1="496.24" y1="1386.20" x2="496.24" y2="1379.20" stroke="#000" stroke-width="2"/><line x1="511.54" y1="1386.20" x2="511.54" y2="1377.00" stroke="#000" stroke-width="2.4"/><line x1="526.85" y1="1386.20" x2="526.85" y2="1379.20" stroke="#000" stroke-width="2"/><line x1="542.15" y1="1386.20" x2="542.15" y2="1379.20" stroke="#000" stroke-width="2"/><line x1="557.46" y1="1386.20" x2="557.46" y2="1379.20" stroke="#000" stroke-width="2"/><line x1="572.77" y1="1386.20" x2="572.77" y2="1379.20" stroke="#000" stroke-width="2"/><line x1="588.07" y1="1386.20" x2="588.07" y2="1377.00" stroke="#000" stroke-width="2.4"/><line x1="603.38" y1="1386.20" x2="603.38" y2="1379.20" stroke="#000" stroke-width="2"/><line x1="618.68" y1="1386.20" x2="618.68" y2="1379.20" stroke="#000" stroke-width="2"/><line x1="633.99" y1="1386.20" x2="633.99" y2="1379.20" stroke="#000" stroke-width="2"/><line x1="649.29" y1="1386.20" x2="649.29" y2="1379.20" stroke="#000" stroke-width="2"/><line x1="664.60" y1="1386.20" x2="664.60" y2="1377.00" stroke="#000" stroke-width="2.4"/>
<rect x="128.90" y="971.00" width="535.70" height="415.20" fill="none" stroke="#000" stroke-width="4.3"/>
<text x="116" y="1383.27" text-anchor="end" font-family="Liberation Sans, sans-serif" font-weight="bold" font-size="25.5">0</text><text x="116" y="1325.60" text-anchor="end" font-family="Liberation Sans, sans-serif" font-weight="bold" font-size="25.5">50</text><text x="116" y="1267.93" text-anchor="end" font-family="Liberation Sans, sans-serif" font-weight="bold" font-size="25.5">100</text><text x="116" y="1210.27" text-anchor="end" font-family="Liberation Sans, sans-serif" font-weight="bold" font-size="25.5">150</text><text x="116" y="1152.60" text-anchor="end" font-family="Liberation Sans, sans-serif" font-weight="bold" font-size="25.5">200</text><text x="116" y="1094.93" text-anchor="end" font-family="Liberation Sans, sans-serif" font-weight="bold" font-size="25.5">250</text><text x="116" y="1037.27" text-anchor="end" font-family="Liberation Sans, sans-serif" font-weight="bold" font-size="25.5">300</text><text x="116" y="979.60" text-anchor="end" font-family="Liberation Sans, sans-serif" font-weight="bold" font-size="25.5">350</text><text x="128.90" y="1422.20" text-anchor="middle" font-family="Liberation Sans, sans-serif" font-weight="bold" font-size="25.5">4</text><text x="205.43" y="1422.20" text-anchor="middle" font-family="Liberation Sans, sans-serif" font-weight="bold" font-size="25.5">6</text><text x="281.96" y="1422.20" text-anchor="middle" font-family="Liberation Sans, sans-serif" font-weight="bold" font-size="25.5">8</text><text x="358.49" y="1422.20" text-anchor="middle" font-family="Liberation Sans, sans-serif" font-weight="bold" font-size="25.5">10</text><text x="435.01" y="1422.20" text-anchor="middle" font-family="Liberation Sans, sans-serif" font-weight="bold" font-size="25.5">12</text><text x="511.54" y="1422.20" text-anchor="middle" font-family="Liberation Sans, sans-serif" font-weight="bold" font-size="25.5">14</text><text x="588.07" y="1422.20" text-anchor="middle" font-family="Liberation Sans, sans-serif" font-weight="bold" font-size="25.5">16</text><text x="664.60" y="1422.20" text-anchor="middle" font-family="Liberation Sans, sans-serif" font-weight="bold" font-size="25.5">18</text>
<text x="356.7" y="1032.50" text-anchor="middle" font-family="Liberation Sans, sans-serif" font-weight="bold" font-size="43">(C)</text>
<text transform="translate(44.6 1177.80) rotate(-90)" text-anchor="middle" font-family="Liberation Serif, serif" font-weight="bold" font-size="38">Dielectric loss <tspan font-size="34">ε</tspan><tspan font-weight="normal" font-size="25" dx="1.5" dy="13">2</tspan></text>
<circle cx="481.10" cy="50.90" r="8" fill="#000000"/>
<text x="531" y="60.70" font-family="Liberation Sans, sans-serif" font-weight="bold" font-size="28.4" letter-spacing="0.45" fill="#000000">0 kGy</text>
<path d="M473.10 82.60H489.10L481.10 97.60Z" fill="#ff0000"/>
<text x="531" y="97.40" font-family="Liberation Sans, sans-serif" font-weight="bold" font-size="28.4" letter-spacing="0.45" fill="#e60000">50 kGy</text>
<path d="M473.10 129.10H489.10L481.10 114.70Z" fill="#0000ff"/>
<text x="531" y="134.10" font-family="Liberation Sans, sans-serif" font-weight="bold" font-size="28.4" letter-spacing="0.45" fill="#0000c0">100 kGy</text>
<rect x="474.10" y="154.00" width="14" height="14" fill="#800000"/>
<text x="531" y="170.80" font-family="Liberation Sans, sans-serif" font-weight="bold" font-size="28.4" letter-spacing="0.45" fill="#6a0000">150 kGy</text>
<rect x="474.10" y="190.70" width="14" height="14" fill="#008000"/>
<text x="531" y="207.50" font-family="Liberation Sans, sans-serif" font-weight="bold" font-size="28.4" letter-spacing="0.45" fill="#006a00">200 kGy</text>
<path d="M481.10 224.70L490.80 234.40L481.10 244.10L471.40 234.40Z" fill="#808000"/>
<text x="531" y="244.20" font-family="Liberation Sans, sans-serif" font-weight="bold" font-size="28.4" letter-spacing="0.45" fill="#6a6a00">300 kGy</text>
<text x="398" y="1464" text-anchor="middle" font-family="Liberation Serif, serif" font-weight="bold" font-size="37">Ln <tspan font-weight="normal" dy="2.7">[</tspan><tspan font-weight="normal" dy="-2.7">ω</tspan> (Hz)<tspan font-weight="normal" dy="2.7">]</tspan></text>
</svg>
</body></html>
